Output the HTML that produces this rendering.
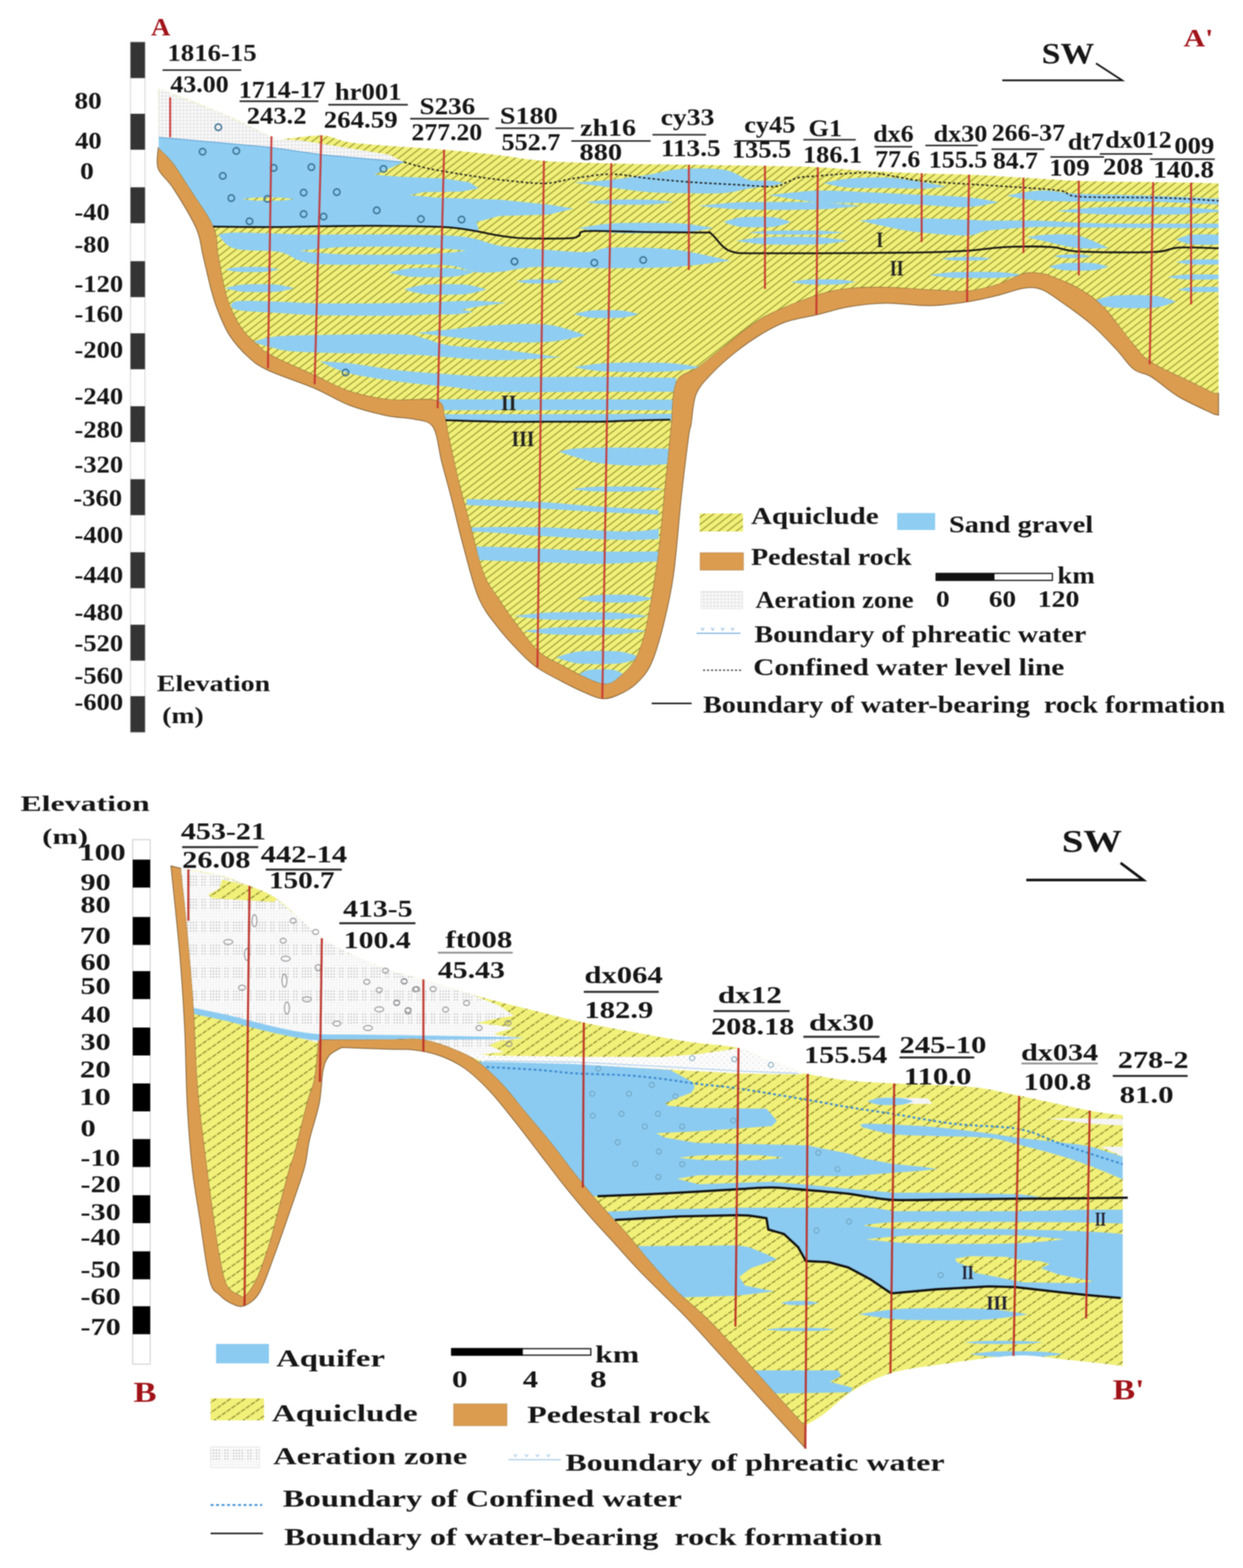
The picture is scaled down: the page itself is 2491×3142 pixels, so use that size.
<!DOCTYPE html>
<html><head><meta charset="utf-8"><title>Hydrogeological cross sections</title>
<style>html,body{margin:0;padding:0;background:#fff}svg{display:block}text{font-family:"Liberation Serif",serif;white-space:pre}</style></head><body>
<svg width="2491" height="3142" viewBox="0 0 2491 3142" xml:space="preserve">
<defs>
<pattern id="hatchT" width="18" height="14" patternUnits="userSpaceOnUse">
<rect width="18" height="14" fill="#f1f079"/>
<path d="M-1 14.8L19 -0.8M-1 28.8L19 13.2M-1 0.8L19 -14.8" stroke="#a3a23c" stroke-width="2.4" fill="none"/>
</pattern>
<pattern id="hatchB" width="29" height="20.3" patternUnits="userSpaceOnUse">
<rect width="29" height="20.3" fill="#f1f079"/>
<path d="M-29 40.6L58 -20.3M-29 20.3L58 -40.6M-29 60.900000000000006L58 0" stroke="#8f8d32" stroke-width="2.4" stroke-dasharray="9.440 2.360" fill="none"/>
</pattern>
<pattern id="aerT" width="7" height="7" patternUnits="userSpaceOnUse">
<rect width="7" height="7" fill="#fafafa"/>
<path d="M0 3.5H7M3.5 0V7" stroke="#d9d9dc" stroke-width="1"/>
</pattern>
<pattern id="aerB" width="46" height="46" patternUnits="userSpaceOnUse">
<rect width="46" height="46" fill="#fbfbfb"/>
<rect x="1.20" y="1.20" width="2.6" height="2.6" fill="#ececee"/><rect x="6.95" y="1.20" width="2.6" height="2.6" fill="#ececee"/><rect x="12.70" y="1.20" width="2.6" height="2.6" fill="#ececee"/><rect x="18.45" y="1.20" width="2.6" height="2.6" fill="#ececee"/><rect x="24.20" y="1.20" width="2.6" height="2.6" fill="#ececee"/><rect x="29.95" y="1.20" width="2.6" height="2.6" fill="#ececee"/><rect x="35.70" y="1.20" width="2.6" height="2.6" fill="#ececee"/><rect x="41.45" y="1.20" width="2.6" height="2.6" fill="#ececee"/><rect x="1.20" y="6.95" width="2.6" height="2.6" fill="#ececee"/><rect x="6.95" y="6.95" width="2.6" height="2.6" fill="#b9b9bd"/><rect x="12.70" y="6.95" width="2.6" height="2.6" fill="#b9b9bd"/><rect x="18.45" y="6.95" width="2.6" height="2.6" fill="#b9b9bd"/><rect x="24.20" y="6.95" width="2.6" height="2.6" fill="#b9b9bd"/><rect x="29.95" y="6.95" width="2.6" height="2.6" fill="#ececee"/><rect x="35.70" y="6.95" width="2.6" height="2.6" fill="#b9b9bd"/><rect x="41.45" y="6.95" width="2.6" height="2.6" fill="#b9b9bd"/><rect x="1.20" y="12.70" width="2.6" height="2.6" fill="#ececee"/><rect x="6.95" y="12.70" width="2.6" height="2.6" fill="#b9b9bd"/><rect x="12.70" y="12.70" width="2.6" height="2.6" fill="#b9b9bd"/><rect x="18.45" y="12.70" width="2.6" height="2.6" fill="#b9b9bd"/><rect x="24.20" y="12.70" width="2.6" height="2.6" fill="#b9b9bd"/><rect x="29.95" y="12.70" width="2.6" height="2.6" fill="#ececee"/><rect x="35.70" y="12.70" width="2.6" height="2.6" fill="#b9b9bd"/><rect x="41.45" y="12.70" width="2.6" height="2.6" fill="#b9b9bd"/><rect x="1.20" y="18.45" width="2.6" height="2.6" fill="#ececee"/><rect x="6.95" y="18.45" width="2.6" height="2.6" fill="#b9b9bd"/><rect x="12.70" y="18.45" width="2.6" height="2.6" fill="#b9b9bd"/><rect x="18.45" y="18.45" width="2.6" height="2.6" fill="#b9b9bd"/><rect x="24.20" y="18.45" width="2.6" height="2.6" fill="#b9b9bd"/><rect x="29.95" y="18.45" width="2.6" height="2.6" fill="#ececee"/><rect x="35.70" y="18.45" width="2.6" height="2.6" fill="#b9b9bd"/><rect x="41.45" y="18.45" width="2.6" height="2.6" fill="#b9b9bd"/><rect x="1.20" y="24.20" width="2.6" height="2.6" fill="#ececee"/><rect x="6.95" y="24.20" width="2.6" height="2.6" fill="#b9b9bd"/><rect x="12.70" y="24.20" width="2.6" height="2.6" fill="#b9b9bd"/><rect x="18.45" y="24.20" width="2.6" height="2.6" fill="#b9b9bd"/><rect x="24.20" y="24.20" width="2.6" height="2.6" fill="#b9b9bd"/><rect x="29.95" y="24.20" width="2.6" height="2.6" fill="#ececee"/><rect x="35.70" y="24.20" width="2.6" height="2.6" fill="#b9b9bd"/><rect x="41.45" y="24.20" width="2.6" height="2.6" fill="#b9b9bd"/><rect x="1.20" y="29.95" width="2.6" height="2.6" fill="#ececee"/><rect x="6.95" y="29.95" width="2.6" height="2.6" fill="#ececee"/><rect x="12.70" y="29.95" width="2.6" height="2.6" fill="#ececee"/><rect x="18.45" y="29.95" width="2.6" height="2.6" fill="#ececee"/><rect x="24.20" y="29.95" width="2.6" height="2.6" fill="#ececee"/><rect x="29.95" y="29.95" width="2.6" height="2.6" fill="#ececee"/><rect x="35.70" y="29.95" width="2.6" height="2.6" fill="#ececee"/><rect x="41.45" y="29.95" width="2.6" height="2.6" fill="#ececee"/><rect x="1.20" y="35.70" width="2.6" height="2.6" fill="#ececee"/><rect x="6.95" y="35.70" width="2.6" height="2.6" fill="#ececee"/><rect x="12.70" y="35.70" width="2.6" height="2.6" fill="#ececee"/><rect x="18.45" y="35.70" width="2.6" height="2.6" fill="#ececee"/><rect x="24.20" y="35.70" width="2.6" height="2.6" fill="#ececee"/><rect x="29.95" y="35.70" width="2.6" height="2.6" fill="#ececee"/><rect x="35.70" y="35.70" width="2.6" height="2.6" fill="#ececee"/><rect x="41.45" y="35.70" width="2.6" height="2.6" fill="#ececee"/><rect x="1.20" y="41.45" width="2.6" height="2.6" fill="#ececee"/><rect x="6.95" y="41.45" width="2.6" height="2.6" fill="#ececee"/><rect x="12.70" y="41.45" width="2.6" height="2.6" fill="#ececee"/><rect x="18.45" y="41.45" width="2.6" height="2.6" fill="#ececee"/><rect x="24.20" y="41.45" width="2.6" height="2.6" fill="#ececee"/><rect x="29.95" y="41.45" width="2.6" height="2.6" fill="#ececee"/><rect x="35.70" y="41.45" width="2.6" height="2.6" fill="#ececee"/><rect x="41.45" y="41.45" width="2.6" height="2.6" fill="#ececee"/>
</pattern>
<pattern id="aerL" width="11.5" height="11.5" patternUnits="userSpaceOnUse">
<rect width="11.5" height="11.5" fill="#fcfcfc"/>
<rect x="1.2" y="1.2" width="2.6" height="2.6" fill="#dcdcdf"/><rect x="6.95" y="6.95" width="2.6" height="2.6" fill="#e4e4e7"/>
</pattern>
<filter id="soft" color-interpolation-filters="sRGB" x="0" y="0" width="2491" height="3142" filterUnits="userSpaceOnUse"><feGaussianBlur stdDeviation="0.8"/></filter>
</defs>
<g filter="url(#soft)">
<rect width="2491" height="3142" fill="#fff"/>
<g id="top">
<path d="M317 296C317 303 312 324.5 317 338C322 351.5 334.3 357.2 347 377C359.7 396.8 383 434.3 393 457C403 479.7 401.8 491.8 407 513C412.2 534.2 418.8 565.2 424 584C429.2 602.8 432 611.3 438 626C444 640.7 450.2 657.2 460 672C469.8 686.8 484.2 703.3 497 715C509.8 726.7 514.8 731.5 537 742C559.2 752.5 602.8 766.3 630 778C657.2 789.7 675.8 802.8 700 812C724.2 821.2 753.3 828.3 775 833C796.7 837.7 814.5 836.2 830 840C845.5 843.8 858.8 841.8 868 856C877.2 870.2 878.8 901 885 925C891.2 949 897.5 970.8 905 1000C912.5 1029.2 920.8 1066.7 930 1100C939.2 1133.3 948.3 1173.3 960 1200C971.7 1226.7 986.7 1242.5 1000 1260C1013.3 1277.5 1027.5 1292.2 1040 1305C1052.5 1317.8 1060.8 1327 1075 1337C1089.2 1347 1109.2 1356.7 1125 1365C1140.8 1373.3 1156.3 1381.2 1170 1387C1183.7 1392.8 1195.3 1399.2 1207 1400C1218.7 1400.8 1228.7 1397 1240 1392C1251.3 1387 1264.2 1380.3 1275 1370C1285.8 1359.7 1295.8 1350 1305 1330C1314.2 1310 1322.5 1280 1330 1250C1337.5 1220 1344.2 1191.7 1350 1150C1355.8 1108.3 1360 1045.8 1365 1000C1370 954.2 1376.7 900 1380 875C1383.3 850 1382.5 864.2 1385 850C1387.5 835.8 1388.3 806.7 1395 790C1401.7 773.3 1411.7 764.2 1425 750C1438.3 735.8 1458.3 718.3 1475 705C1491.7 691.7 1508.3 680 1525 670C1541.7 660 1555.8 651.7 1575 645C1594.2 638.3 1619.2 635 1640 630C1660.8 625 1677.5 618.8 1700 615C1722.5 611.2 1748 607.9 1775 607.5C1802 607.1 1835 612.9 1862 612.5C1889 612.1 1914.5 608.3 1937 605C1959.5 601.7 1977.8 597.1 1997 592.5C2016.2 587.9 2037 579.6 2052 577.5C2067 575.4 2074.5 575.4 2087 580C2099.5 584.6 2110.3 593.3 2127 605C2143.7 616.7 2168.7 634.2 2187 650C2205.3 665.8 2222.8 685 2237 700C2251.2 715 2260.3 730.8 2272 740C2283.7 749.2 2292 745.8 2307 755C2322 764.2 2341 782.5 2362 795C2383 807.5 2421.2 824.2 2433 830L2442 832L2442 787.5L2433 787.5C2425.3 783.8 2408 775.4 2387 765C2366 754.6 2326.2 737.5 2307 725C2287.8 712.5 2287.8 708.3 2272 690C2256.2 671.7 2230.3 633.8 2212 615C2193.7 596.2 2178.7 587.5 2162 577.5C2145.3 567.5 2124.5 560 2112 555C2099.5 550 2097 548.8 2087 547.5C2077 546.2 2067 543.8 2052 547.5C2037 551.2 2016.2 564.2 1997 570C1977.8 575.8 1959.5 580.8 1937 582.5C1914.5 584.2 1889 581.2 1862 580C1835 578.8 1802 575.4 1775 575C1748 574.6 1722.5 575 1700 577.5C1677.5 580 1665 582.1 1640 590C1615 597.9 1573.3 614.2 1550 625C1526.7 635.8 1516.7 643.3 1500 655C1483.3 666.7 1466.7 681.7 1450 695C1433.3 708.3 1415.8 723.3 1400 735C1384.2 746.7 1364.2 745.8 1355 765C1345.8 784.2 1347.5 827.5 1345 850C1342.5 872.5 1342.5 875 1340 900C1337.5 925 1333.3 966.7 1330 1000C1326.7 1033.3 1324.2 1066.7 1320 1100C1315.8 1133.3 1310 1170.8 1305 1200C1300 1229.2 1295.8 1254.2 1290 1275C1284.2 1295.8 1278.3 1311.3 1270 1325C1261.7 1338.7 1249.2 1349.5 1240 1357C1230.8 1364.5 1225 1369.5 1215 1370C1205 1370.5 1195 1366.3 1180 1360C1165 1353.7 1141.7 1341.2 1125 1332C1108.3 1322.8 1095 1318.7 1080 1305C1065 1291.3 1048.3 1267.5 1035 1250C1021.7 1232.5 1010.8 1216.7 1000 1200C989.2 1183.3 979.2 1173.3 970 1150C960.8 1126.7 953.3 1090.8 945 1060C936.7 1029.2 927.5 995.8 920 965C912.5 934.2 904.7 896.7 900 875C895.3 853.3 896.2 847.2 892 835C887.8 822.8 893.7 807.8 875 802C856.3 796.2 809.2 803.2 780 800C750.8 796.8 724.7 791 700 783C675.3 775 657.8 763.8 632 752C606.2 740.2 564.3 722.3 545 712C525.7 701.7 525.5 698.3 516 690C506.5 681.7 496.2 672.7 488 662C479.8 651.3 473 639 467 626C461 613 456.8 602.8 452 584C447.2 565.2 442 534.7 438 513C434 491.3 437.3 476.2 428 454C418.7 431.8 395.5 401.2 382 380C368.5 358.8 357.3 340.7 347 327C336.7 313.3 324.5 302.8 320 298L317 296Z" fill="#db9c50" stroke="#7a5a30" stroke-width="1.5"/>
<clipPath id="tclip"><path d="M317.5 177.5C337.9 185.4 402.9 209.2 440 225C477.1 240.8 520 263 540 272C560 281 542.5 279.1 560 279C577.5 278.9 621.7 270.5 645 271.5C668.3 272.5 675.8 281.4 700 285C724.2 288.6 758.3 290.5 790 293C821.7 295.5 855 297 890 300C925 303 966.7 307.2 1000 311C1033.3 314.8 1052.5 319.8 1090 322.5C1127.5 325.2 1175.8 326.2 1225 327.5C1274.2 328.8 1333.3 329.2 1385 330C1436.7 330.8 1492.5 331.7 1535 332.5C1577.5 333.3 1606.3 333.3 1640 335C1673.7 336.7 1702.5 340.4 1737 342.5C1771.5 344.6 1812.8 346.2 1847 347.5C1881.2 348.8 1907.8 348.6 1942 350C1976.2 351.4 2015.3 353.9 2052 356C2088.7 358.1 2118.7 361 2162 362.5C2205.3 364 2274.5 364.4 2312 365C2349.5 365.6 2365.3 365.6 2387 366C2408.7 366.4 2432.8 367.2 2442 367.5L2442 787.5L2433 787.5C2425.3 783.8 2408 775.4 2387 765C2366 754.6 2326.2 737.5 2307 725C2287.8 712.5 2287.8 708.3 2272 690C2256.2 671.7 2230.3 633.8 2212 615C2193.7 596.2 2178.7 587.5 2162 577.5C2145.3 567.5 2124.5 560 2112 555C2099.5 550 2097 548.8 2087 547.5C2077 546.2 2067 543.8 2052 547.5C2037 551.2 2016.2 564.2 1997 570C1977.8 575.8 1959.5 580.8 1937 582.5C1914.5 584.2 1889 581.2 1862 580C1835 578.8 1802 575.4 1775 575C1748 574.6 1722.5 575 1700 577.5C1677.5 580 1665 582.1 1640 590C1615 597.9 1573.3 614.2 1550 625C1526.7 635.8 1516.7 643.3 1500 655C1483.3 666.7 1466.7 681.7 1450 695C1433.3 708.3 1415.8 723.3 1400 735C1384.2 746.7 1364.2 745.8 1355 765C1345.8 784.2 1347.5 827.5 1345 850C1342.5 872.5 1342.5 875 1340 900C1337.5 925 1333.3 966.7 1330 1000C1326.7 1033.3 1324.2 1066.7 1320 1100C1315.8 1133.3 1310 1170.8 1305 1200C1300 1229.2 1295.8 1254.2 1290 1275C1284.2 1295.8 1278.3 1311.3 1270 1325C1261.7 1338.7 1249.2 1349.5 1240 1357C1230.8 1364.5 1225 1369.5 1215 1370C1205 1370.5 1195 1366.3 1180 1360C1165 1353.7 1141.7 1341.2 1125 1332C1108.3 1322.8 1095 1318.7 1080 1305C1065 1291.3 1048.3 1267.5 1035 1250C1021.7 1232.5 1010.8 1216.7 1000 1200C989.2 1183.3 979.2 1173.3 970 1150C960.8 1126.7 953.3 1090.8 945 1060C936.7 1029.2 927.5 995.8 920 965C912.5 934.2 904.7 896.7 900 875C895.3 853.3 896.2 847.2 892 835C887.8 822.8 893.7 807.8 875 802C856.3 796.2 809.2 803.2 780 800C750.8 796.8 724.7 791 700 783C675.3 775 657.8 763.8 632 752C606.2 740.2 564.3 722.3 545 712C525.7 701.7 525.5 698.3 516 690C506.5 681.7 496.2 672.7 488 662C479.8 651.3 473 639 467 626C461 613 456.8 602.8 452 584C447.2 565.2 442 534.7 438 513C434 491.3 437.3 476.2 428 454C418.7 431.8 395.5 401.2 382 380C368.5 358.8 357.3 340.7 347 327C336.7 313.3 324.5 302.8 320 298L318 298Z"/></clipPath>
<path d="M317.5 177.5C337.9 185.4 402.9 209.2 440 225C477.1 240.8 520 263 540 272C560 281 542.5 279.1 560 279C577.5 278.9 621.7 270.5 645 271.5C668.3 272.5 675.8 281.4 700 285C724.2 288.6 758.3 290.5 790 293C821.7 295.5 855 297 890 300C925 303 966.7 307.2 1000 311C1033.3 314.8 1052.5 319.8 1090 322.5C1127.5 325.2 1175.8 326.2 1225 327.5C1274.2 328.8 1333.3 329.2 1385 330C1436.7 330.8 1492.5 331.7 1535 332.5C1577.5 333.3 1606.3 333.3 1640 335C1673.7 336.7 1702.5 340.4 1737 342.5C1771.5 344.6 1812.8 346.2 1847 347.5C1881.2 348.8 1907.8 348.6 1942 350C1976.2 351.4 2015.3 353.9 2052 356C2088.7 358.1 2118.7 361 2162 362.5C2205.3 364 2274.5 364.4 2312 365C2349.5 365.6 2365.3 365.6 2387 366C2408.7 366.4 2432.8 367.2 2442 367.5L2442 787.5L2433 787.5C2425.3 783.8 2408 775.4 2387 765C2366 754.6 2326.2 737.5 2307 725C2287.8 712.5 2287.8 708.3 2272 690C2256.2 671.7 2230.3 633.8 2212 615C2193.7 596.2 2178.7 587.5 2162 577.5C2145.3 567.5 2124.5 560 2112 555C2099.5 550 2097 548.8 2087 547.5C2077 546.2 2067 543.8 2052 547.5C2037 551.2 2016.2 564.2 1997 570C1977.8 575.8 1959.5 580.8 1937 582.5C1914.5 584.2 1889 581.2 1862 580C1835 578.8 1802 575.4 1775 575C1748 574.6 1722.5 575 1700 577.5C1677.5 580 1665 582.1 1640 590C1615 597.9 1573.3 614.2 1550 625C1526.7 635.8 1516.7 643.3 1500 655C1483.3 666.7 1466.7 681.7 1450 695C1433.3 708.3 1415.8 723.3 1400 735C1384.2 746.7 1364.2 745.8 1355 765C1345.8 784.2 1347.5 827.5 1345 850C1342.5 872.5 1342.5 875 1340 900C1337.5 925 1333.3 966.7 1330 1000C1326.7 1033.3 1324.2 1066.7 1320 1100C1315.8 1133.3 1310 1170.8 1305 1200C1300 1229.2 1295.8 1254.2 1290 1275C1284.2 1295.8 1278.3 1311.3 1270 1325C1261.7 1338.7 1249.2 1349.5 1240 1357C1230.8 1364.5 1225 1369.5 1215 1370C1205 1370.5 1195 1366.3 1180 1360C1165 1353.7 1141.7 1341.2 1125 1332C1108.3 1322.8 1095 1318.7 1080 1305C1065 1291.3 1048.3 1267.5 1035 1250C1021.7 1232.5 1010.8 1216.7 1000 1200C989.2 1183.3 979.2 1173.3 970 1150C960.8 1126.7 953.3 1090.8 945 1060C936.7 1029.2 927.5 995.8 920 965C912.5 934.2 904.7 896.7 900 875C895.3 853.3 896.2 847.2 892 835C887.8 822.8 893.7 807.8 875 802C856.3 796.2 809.2 803.2 780 800C750.8 796.8 724.7 791 700 783C675.3 775 657.8 763.8 632 752C606.2 740.2 564.3 722.3 545 712C525.7 701.7 525.5 698.3 516 690C506.5 681.7 496.2 672.7 488 662C479.8 651.3 473 639 467 626C461 613 456.8 602.8 452 584C447.2 565.2 442 534.7 438 513C434 491.3 437.3 476.2 428 454C418.7 431.8 395.5 401.2 382 380C368.5 358.8 357.3 340.7 347 327C336.7 313.3 324.5 302.8 320 298L318 298Z" fill="url(#hatchT)"/>
<g clip-path="url(#tclip)">
<path d="M317.5 177.5L440 225L540 272L560 279L600 281L645 288L700 297L750 305L780 310L810 325L645 310L540 295L318 275Z" fill="url(#aerT)"/>
<g fill="#8fcef2">
<path d="M318 275L540 295L645 310L810 325L780 337.5L750 350L800 354L890 357.5L940 365L960 377.5L925 384L850 385L820 391L875 396L1000 400L1100 410L1150 418L1100 430L1000 433L955 445L960 463L890 455L750 452.5L640 453.5L540 455L427 454L382 380L347 327L318 298Z"/>
<path d="M437 470C442.5 469.3 449.5 466.3 470 466C490.5 465.7 538.3 467.3 560 468C581.7 468.7 585 469.7 600 470C615 470.3 616.7 470 650 470C683.3 470 758.3 469.7 800 470C841.7 470.3 875 470.7 900 472C925 473.3 933.3 474.7 950 478C966.7 481.3 979.2 488.5 1000 492C1020.8 495.5 1045.8 496.8 1075 499C1104.2 501.2 1150 505.5 1175 505C1200 504.5 1195.8 496.8 1225 496C1254.2 495.2 1310 495.6 1350 500C1390 504.4 1445.8 518.8 1465 522.5L1465 522.5C1445.8 524.6 1390 532.5 1350 535C1310 537.5 1254.2 537.2 1225 537.5C1195.8 537.8 1200 537.4 1175 537C1150 536.6 1104.2 533.7 1075 535C1045.8 536.3 1020.8 543.3 1000 545C979.2 546.7 966.7 547.2 950 545C933.3 542.8 925 534.5 900 532C875 529.5 841.7 530.3 800 530C758.3 529.7 683.3 531.3 650 530C616.7 528.7 615 526.2 600 522C585 517.8 581.7 509 560 505C538.3 501 490.5 503.8 470 498C449.5 492.2 442.5 474.7 437 470Z"/>
<path d="M462 612C465 610.5 462 604.2 480 603C498 601.8 541.7 604.2 570 605C598.3 605.8 608.3 607.7 650 608C691.7 608.3 778.3 607.7 820 607C861.7 606.3 876.7 604.7 900 604C923.3 603.3 940.8 602.5 960 603C979.2 603.5 1005.8 606.3 1015 607L1015 607C1005.8 608.2 979.2 611 960 614C940.8 617 923.3 622 900 625C876.7 628 861.7 630.8 820 632C778.3 633.2 691.7 632.7 650 632C608.3 631.3 598.3 629.7 570 628C541.7 626.3 498 624.7 480 622C462 619.3 465 613.7 462 612Z"/>
<path d="M508 685C513.3 683.5 524.7 678.2 540 676C555.3 673.8 556.7 673 600 672C643.3 671 758.3 669 800 670C841.7 671 833.3 674.3 850 678C866.7 681.7 875 688.3 900 692C925 695.7 962.5 696 1000 700C1037.5 704 1104.2 713.3 1125 716L1125 716C1104.2 717 1037.5 722 1000 722C962.5 722 925 717.7 900 716C875 714.3 866.7 713 850 712C833.3 711 841.7 711.2 800 710C758.3 708.8 643.3 707.5 600 705C556.7 702.5 555.3 698.3 540 695C524.7 691.7 513.3 686.7 508 685Z"/>
<path d="M640 724C650 724.7 673.3 725 700 728C726.7 731 766.7 738.3 800 742C833.3 745.7 866.7 747.8 900 750C933.3 752.2 950 754.2 1000 755C1050 755.8 1140.8 754.7 1200 755C1259.2 755.3 1329.2 756.7 1355 757L1355 785C1329.2 785 1259.2 785 1200 785C1140.8 785 1050 786.7 1000 785C950 783.3 933.3 778.3 900 775C866.7 771.7 833.3 769.5 800 765C766.7 760.5 726.7 754.8 700 748C673.3 741.2 650 728 640 724Z"/>
<path d="M880 800C900 800 946.7 800 1000 800C1053.3 800 1140.8 799.8 1200 800C1259.2 800.2 1329.2 800.8 1355 801L1355 822C1329.2 822 1259.2 822 1200 822C1140.8 822 1053.3 822 1000 822C946.7 822 900 822 880 822Z"/>
<path d="M880 830C916.7 830 1020.8 830.2 1100 830C1179.2 829.8 1312.5 829.2 1355 829L1355 842C1312.5 842.5 1179.2 844.8 1100 845C1020.8 845.2 916.7 843.3 880 843Z"/>
<path d="M835 667C845.8 665.8 872.5 662.7 900 660C927.5 657.3 966.7 652.5 1000 651C1033.3 649.5 1070.8 647.5 1100 651C1129.2 654.5 1162.5 668.5 1175 672L1175 672C1162.5 674.2 1129.2 682.8 1100 685C1070.8 687.2 1033.3 686.7 1000 685C966.7 683.3 927.5 678 900 675C872.5 672 845.8 668.3 835 667Z"/>
<path d="M1150 366C1162.5 365 1200 362.7 1225 360C1250 357.3 1277.5 353.5 1300 350C1322.5 346.5 1335 340.7 1360 339C1385 337.3 1426.7 336.5 1450 340C1473.3 343.5 1483.3 354.7 1500 360C1516.7 365.3 1541.7 370 1550 372L1550 372C1541.7 373 1516.7 375.5 1500 378C1483.3 380.5 1473.3 385.5 1450 387C1426.7 388.5 1385 387.3 1360 387C1335 386.7 1322.5 386.8 1300 385C1277.5 383.2 1250 379.2 1225 376C1200 372.8 1162.5 367.7 1150 366Z"/>
<path d="M1540 391C1556.2 389.5 1604.2 383 1637 382C1669.8 381 1703.7 383.7 1737 385C1770.3 386.3 1803.7 388.3 1837 390C1870.3 391.7 1909.5 392.5 1937 395C1964.5 397.5 1991.2 403.3 2002 405L2002 405C1991.2 406.7 1964.5 414.2 1937 415C1909.5 415.8 1870.3 411.3 1837 410C1803.7 408.7 1770.3 407.8 1737 407C1703.7 406.2 1669.8 407.7 1637 405C1604.2 402.3 1556.2 393.3 1540 391Z"/>
<path d="M1650 367C1658.3 365.5 1678.3 359.8 1700 358C1721.7 356.2 1755 354.8 1780 356C1805 357.2 1830.5 362 1850 365C1869.5 368 1889.2 372.5 1897 374L1897 374C1889.2 374.7 1869.5 377.5 1850 378C1830.5 378.5 1805 377.3 1780 377C1755 376.7 1721.7 377.7 1700 376C1678.3 374.3 1658.3 368.5 1650 367Z"/>
<path d="M1722 442C1731.7 441.2 1760.8 437.8 1780 437C1799.2 436.2 1810.8 436.5 1837 437C1863.2 437.5 1912.8 439.2 1937 440C1961.2 440.8 1958.2 441.7 1982 442C2005.8 442.3 2045.8 441.2 2080 442C2114.2 442.8 2150.3 446 2187 447C2223.7 448 2257.5 447.8 2300 448C2342.5 448.2 2418.3 448 2442 448L2442 457C2418.3 457 2342.5 457.2 2300 457C2257.5 456.8 2223.7 456.3 2187 456C2150.3 455.7 2114.2 454 2080 455C2045.8 456 2005.8 459.2 1982 462C1958.2 464.8 1961.2 471.5 1937 472C1912.8 472.5 1863.2 467.8 1837 465C1810.8 462.2 1799.2 458.8 1780 455C1760.8 451.2 1731.7 444.2 1722 442Z"/>
<path d="M2017 392C2024.2 390.7 2046.2 385.7 2060 384C2073.8 382.3 2083.8 381.3 2100 382C2116.2 382.7 2123.7 386.3 2157 388C2190.3 389.7 2252.5 390.3 2300 392C2347.5 393.7 2418.3 397 2442 398L2442 410C2418.3 409 2347.5 405 2300 404C2252.5 403 2190.3 404.2 2157 404C2123.7 403.8 2116.2 403.7 2100 403C2083.8 402.3 2073.8 401.8 2060 400C2046.2 398.2 2024.2 393.3 2017 392Z"/>
<path d="M2057 475C2064.2 474.2 2082.8 470.5 2100 470C2117.2 469.5 2139.7 467.5 2160 472C2180.3 476.5 2211.7 492.8 2222 497L2222 497C2211.7 497 2180.3 499 2160 497C2139.7 495 2117.2 488.7 2100 485C2082.8 481.3 2064.2 476.7 2057 475Z"/>
<path d="M935 1000C945.8 1000.3 972.5 1000.8 1000 1002C1027.5 1003.2 1066.7 1004.8 1100 1007C1133.3 1009.2 1163.3 1012.5 1200 1015C1236.7 1017.5 1300 1020.8 1320 1022L1320 1031C1300 1030.2 1236.7 1027.8 1200 1026C1163.3 1024.2 1133.3 1021.8 1100 1020C1066.7 1018.2 1027.5 1016.3 1000 1015C972.5 1013.7 945.8 1012.5 935 1012Z"/>
<path d="M945 1057C954.2 1056.8 974.2 1056 1000 1056C1025.8 1056 1058.3 1055.5 1100 1057C1141.7 1058.5 1213.3 1064.5 1250 1065C1286.7 1065.5 1308.3 1060.8 1320 1060L1320 1080C1308.3 1080.3 1286.7 1082.8 1250 1082C1213.3 1081.2 1141.7 1077.3 1100 1075C1058.3 1072.7 1025.8 1069.7 1000 1068C974.2 1066.3 954.2 1065.5 945 1065Z"/>
<path d="M955 1095C962.5 1095.2 975.8 1095.2 1000 1096C1024.2 1096.8 1066.7 1098.5 1100 1100C1133.3 1101.5 1163.3 1104.2 1200 1105C1236.7 1105.8 1300 1105 1320 1105L1320 1125C1300 1125.8 1236.7 1129.7 1200 1130C1163.3 1130.3 1133.3 1128 1100 1127C1066.7 1126 1024.2 1124.8 1000 1124C975.8 1123.2 962.5 1122.3 955 1122Z"/>
<path d="M1120 905C1125 904 1136.7 900.3 1150 899C1163.3 897.7 1180 897.3 1200 897C1220 896.7 1246.7 896.7 1270 897C1293.3 897.3 1328.3 898.7 1340 899L1340 930C1328.3 930.5 1293.3 933.3 1270 933C1246.7 932.7 1220 931 1200 928C1180 925 1163.3 918.8 1150 915C1136.7 911.2 1125 906.7 1120 905Z"/>
<path d="M450 540C452.2 539.5 457.7 538.1 463.2 537.2C468.7 536.4 472.4 535.4 483 535C493.6 534.6 516.4 534.6 527 535C537.6 535.4 541.3 536.4 546.8 537.2C552.3 538.1 557.8 539.5 560 540L560 540C557.8 540.5 552.3 541.9 546.8 542.8C541.3 543.6 537.6 544.6 527 545C516.4 545.4 493.6 545.4 483 545C472.4 544.6 468.7 543.6 463.2 542.8C457.7 541.9 452.2 540.5 450 540Z"/>
<path d="M780 546C783.4 545.2 791.9 542.5 800.4 541C808.9 539.5 814.6 537.7 831 537C847.4 536.3 882.6 536.3 899 537C915.4 537.7 921.1 539.5 929.6 541C938.1 542.5 946.6 545.2 950 546L950 546C946.6 546.8 938.1 549.5 929.6 551C921.1 552.5 915.4 554.3 899 555C882.6 555.7 847.4 555.7 831 555C814.6 554.3 808.9 552.5 800.4 551C791.9 549.5 783.4 546.8 780 546Z"/>
<path d="M450 577.5C452.8 576.8 459.8 574.6 466.8 573.4C473.8 572.1 478.5 570.6 492 570C505.5 569.4 534.5 569.4 548 570C561.5 570.6 566.2 572.1 573.2 573.4C580.2 574.6 587.2 576.8 590 577.5L590 577.5C587.2 578.2 580.2 580.4 573.2 581.6C566.2 582.9 561.5 584.4 548 585C534.5 585.6 505.5 585.6 492 585C478.5 584.4 473.8 582.9 466.8 581.6C459.8 580.4 452.8 578.2 450 577.5Z"/>
<path d="M810 580C813.3 579.1 821.5 576.2 829.8 574.5C838 572.8 843.5 570.8 859.5 570C875.5 569.2 909.5 569.2 925.5 570C941.5 570.8 947 572.8 955.2 574.5C963.5 576.2 971.7 579.1 975 580L975 580C971.7 580.9 963.5 583.8 955.2 585.5C947 587.2 941.5 589.2 925.5 590C909.5 590.8 875.5 590.8 859.5 590C843.5 589.2 838 587.2 829.8 585.5C821.5 583.8 813.3 580.9 810 580Z"/>
<path d="M1035 564C1036.9 563.6 1041.7 562.5 1046.4 561.8C1051.2 561.1 1054.3 560.3 1063.5 560C1072.7 559.7 1092.3 559.7 1101.5 560C1110.7 560.3 1113.8 561.1 1118.6 561.8C1123.3 562.5 1128.1 563.6 1130 564L1130 564C1128.1 564.4 1123.3 565.5 1118.6 566.2C1113.8 566.9 1110.7 567.7 1101.5 568C1092.3 568.3 1072.7 568.3 1063.5 568C1054.3 567.7 1051.2 566.9 1046.4 566.2C1041.7 565.5 1036.9 564.4 1035 564Z"/>
<path d="M810 625C812.8 624.5 819.8 623.1 826.8 622.2C833.8 621.4 838.5 620.4 852 620C865.5 619.6 894.5 619.6 908 620C921.5 620.4 926.2 621.4 933.2 622.2C940.2 623.1 947.2 624.5 950 625L950 625C947.2 625.5 940.2 626.9 933.2 627.8C926.2 628.6 921.5 629.6 908 630C894.5 630.4 865.5 630.4 852 630C838.5 629.6 833.8 628.6 826.8 627.8C819.8 626.9 812.8 625.5 810 625Z"/>
<path d="M1150 629.5C1152.6 628.8 1159.1 626.6 1165.6 625.4C1172.1 624.1 1176.4 622.6 1189 622C1201.6 621.4 1228.4 621.4 1241 622C1253.6 622.6 1257.9 624.1 1264.4 625.4C1270.9 626.6 1277.4 628.8 1280 629.5L1280 629.5C1277.4 630.2 1270.9 632.4 1264.4 633.6C1257.9 634.9 1253.6 636.4 1241 637C1228.4 637.6 1201.6 637.6 1189 637C1176.4 636.4 1172.1 634.9 1165.6 633.6C1159.1 632.4 1152.6 630.2 1150 629.5Z"/>
<path d="M1150 736C1155.1 735.2 1167.8 732.5 1180.6 731C1193.3 729.5 1201.8 727.7 1226.5 727C1251.2 726.3 1303.8 726.3 1328.5 727C1353.2 727.7 1361.7 729.5 1374.4 731C1387.2 732.5 1399.9 735.2 1405 736L1405 736C1399.9 736.8 1387.2 739.5 1374.4 741C1361.7 742.5 1353.2 744.3 1328.5 745C1303.8 745.7 1251.2 745.7 1226.5 745C1201.8 744.3 1193.3 742.5 1180.6 741C1167.8 739.5 1155.1 736.8 1150 736Z"/>
<path d="M1485 367C1486.7 366.5 1491 365.1 1495.2 364.2C1499.5 363.4 1502.3 362.4 1510.5 362C1518.7 361.6 1536.3 361.6 1544.5 362C1552.7 362.4 1555.5 363.4 1559.8 364.2C1564 365.1 1568.3 366.5 1570 367L1570 367C1568.3 367.5 1564 368.9 1559.8 369.8C1555.5 370.6 1552.7 371.6 1544.5 372C1536.3 372.4 1518.7 372.4 1510.5 372C1502.3 371.6 1499.5 370.6 1495.2 369.8C1491 368.9 1486.7 367.5 1485 367Z"/>
<path d="M1175 405C1178.5 404.5 1187.2 403.1 1196 402.2C1204.8 401.4 1210.6 400.4 1227.5 400C1244.4 399.6 1280.6 399.6 1297.5 400C1314.4 400.4 1320.2 401.4 1329 402.2C1337.8 403.1 1346.5 404.5 1350 405L1350 405C1346.5 405.5 1337.8 406.9 1329 407.8C1320.2 408.6 1314.4 409.6 1297.5 410C1280.6 410.4 1244.4 410.4 1227.5 410C1210.6 409.6 1204.8 408.6 1196 407.8C1187.2 406.9 1178.5 405.5 1175 405Z"/>
<path d="M1400 412.5C1406.5 411.8 1422.8 409.6 1439 408.4C1455.2 407.1 1466.1 405.6 1497.5 405C1528.9 404.4 1596.1 404.4 1627.5 405C1658.9 405.6 1669.8 407.1 1686 408.4C1702.2 409.6 1718.5 411.8 1725 412.5L1725 412.5C1718.5 413.2 1702.2 415.4 1686 416.6C1669.8 417.9 1658.9 419.4 1627.5 420C1596.1 420.6 1528.9 420.6 1497.5 420C1466.1 419.4 1455.2 417.9 1439 416.6C1422.8 415.4 1406.5 413.2 1400 412.5Z"/>
<path d="M1450 445C1452.7 444.1 1459.5 441.2 1466.2 439.5C1473 437.8 1477.5 435.8 1490.5 435C1503.5 434.2 1531.5 434.2 1544.5 435C1557.5 435.8 1562 437.8 1568.8 439.5C1575.5 441.2 1582.3 444.1 1585 445L1585 445C1582.3 445.9 1575.5 448.8 1568.8 450.5C1562 452.2 1557.5 454.2 1544.5 455C1531.5 455.8 1503.5 455.8 1490.5 455C1477.5 454.2 1473 452.2 1466.2 450.5C1459.5 448.8 1452.7 445.9 1450 445Z"/>
<path d="M1160 457C1165.4 456.1 1178.9 453.2 1192.4 451.5C1205.9 449.8 1214.9 447.8 1241 447C1267.1 446.2 1322.9 446.2 1349 447C1375.1 447.8 1384.1 449.8 1397.6 451.5C1411.1 453.2 1424.6 456.1 1430 457L1430 457C1424.6 457.9 1411.1 460.8 1397.6 462.5C1384.1 464.2 1375.1 466.2 1349 467C1322.9 467.8 1267.1 467.8 1241 467C1214.9 466.2 1205.9 464.2 1192.4 462.5C1178.9 460.8 1165.4 457.9 1160 457Z"/>
<path d="M1475 482.5C1479.5 481.8 1490.8 479.6 1502 478.4C1513.2 477.1 1520.8 475.6 1542.5 475C1564.2 474.4 1610.8 474.4 1632.5 475C1654.2 475.6 1661.8 477.1 1673 478.4C1684.2 479.6 1695.5 481.8 1700 482.5L1700 482.5C1695.5 483.2 1684.2 485.4 1673 486.6C1661.8 487.9 1654.2 489.4 1632.5 490C1610.8 490.6 1564.2 490.6 1542.5 490C1520.8 489.4 1513.2 487.9 1502 486.6C1490.8 485.4 1479.5 483.2 1475 482.5Z"/>
<path d="M1500 466C1503.8 465.6 1513.3 464.5 1522.8 463.8C1532.3 463.1 1538.6 462.3 1557 462C1575.4 461.7 1614.6 461.7 1633 462C1651.4 462.3 1657.7 463.1 1667.2 463.8C1676.7 464.5 1686.2 465.6 1690 466L1690 466C1686.2 466.4 1676.7 467.5 1667.2 468.2C1657.7 468.9 1651.4 469.7 1633 470C1614.6 470.3 1575.4 470.3 1557 470C1538.6 469.7 1532.3 468.9 1522.8 468.2C1513.3 467.5 1503.8 466.4 1500 466Z"/>
<path d="M1585 565C1587.6 564.5 1594.1 563.1 1600.6 562.2C1607.1 561.4 1611.4 560.4 1624 560C1636.6 559.6 1663.4 559.6 1676 560C1688.6 560.4 1692.9 561.4 1699.4 562.2C1705.9 563.1 1712.4 564.5 1715 565L1715 565C1712.4 565.5 1705.9 566.9 1699.4 567.8C1692.9 568.6 1688.6 569.6 1676 570C1663.4 570.4 1636.6 570.4 1624 570C1611.4 569.6 1607.1 568.6 1600.6 567.8C1594.1 566.9 1587.6 565.5 1585 565Z"/>
<path d="M2117 422.5C2123.9 421.8 2141 419.6 2158.2 418.4C2175.3 417.1 2186.7 415.6 2219.9 415C2253.1 414.4 2323.9 414.4 2357.1 415C2390.3 415.6 2401.7 417.1 2418.8 418.4C2436 419.6 2453.1 421.8 2460 422.5L2460 422.5C2453.1 423.2 2436 425.4 2418.8 426.6C2401.7 427.9 2390.3 429.4 2357.1 430C2323.9 430.6 2253.1 430.6 2219.9 430C2186.7 429.4 2175.3 427.9 2158.2 426.6C2141 425.4 2123.9 423.2 2117 422.5Z"/>
<path d="M1887 518.5C1889 518.2 1894 517.2 1899 516.6C1904 516 1907.3 515.3 1917 515C1926.7 514.7 1947.3 514.7 1957 515C1966.7 515.3 1970 516 1975 516.6C1980 517.2 1985 518.2 1987 518.5L1987 518.5C1985 518.8 1980 519.8 1975 520.4C1970 521 1966.7 521.7 1957 522C1947.3 522.3 1926.7 522.3 1917 522C1907.3 521.7 1904 521 1899 520.4C1894 519.8 1889 518.8 1887 518.5Z"/>
<path d="M1862 551C1865.8 550.5 1875.3 548.7 1884.8 547.7C1894.3 546.7 1900.6 545.5 1919 545C1937.4 544.5 1976.6 544.5 1995 545C2013.4 545.5 2019.7 546.7 2029.2 547.7C2038.7 548.7 2048.2 550.5 2052 551L2052 551C2048.2 551.5 2038.7 553.3 2029.2 554.3C2019.7 555.3 2013.4 556.5 1995 557C1976.6 557.5 1937.4 557.5 1919 557C1900.6 556.5 1894.3 555.3 1884.8 554.3C1875.3 553.3 1865.8 551.5 1862 551Z"/>
<path d="M2102 534.5C2104.4 533.8 2110.4 531.6 2116.4 530.4C2122.4 529.1 2126.4 527.6 2138 527C2149.6 526.4 2174.4 526.4 2186 527C2197.6 527.6 2201.6 529.1 2207.6 530.4C2213.6 531.6 2219.6 533.8 2222 534.5L2222 534.5C2219.6 535.2 2213.6 537.4 2207.6 538.6C2201.6 539.9 2197.6 541.4 2186 542C2174.4 542.6 2149.6 542.6 2138 542C2126.4 541.4 2122.4 539.9 2116.4 538.6C2110.4 537.4 2104.4 535.2 2102 534.5Z"/>
<path d="M2112 513.5C2113.5 513.2 2117.2 512.2 2121 511.6C2124.8 511 2127.2 510.3 2134.5 510C2141.8 509.7 2157.2 509.7 2164.5 510C2171.8 510.3 2174.2 511 2178 511.6C2181.8 512.2 2185.5 513.2 2187 513.5L2187 513.5C2185.5 513.8 2181.8 514.8 2178 515.4C2174.2 516 2171.8 516.7 2164.5 517C2157.2 517.3 2141.8 517.3 2134.5 517C2127.2 516.7 2124.8 516 2121 515.4C2117.2 514.8 2113.5 513.8 2112 513.5Z"/>
<path d="M2187 604.5C2190.4 603.4 2198.9 599.7 2207.4 597.6C2215.9 595.5 2221.6 592.9 2238 592C2254.4 591.1 2289.6 591.1 2306 592C2322.4 592.9 2328.1 595.5 2336.6 597.6C2345.1 599.7 2353.6 603.4 2357 604.5L2357 604.5C2353.6 605.6 2345.1 609.3 2336.6 611.4C2328.1 613.5 2322.4 616.1 2306 617C2289.6 617.9 2254.4 617.9 2238 617C2221.6 616.1 2215.9 613.5 2207.4 611.4C2198.9 609.3 2190.4 605.6 2187 604.5Z"/>
<path d="M2357 480C2359.3 479.1 2364.9 476.2 2370.6 474.5C2376.2 472.8 2380 470.8 2390.9 470C2401.8 469.2 2425.2 469.2 2436.1 470C2447 470.8 2450.8 472.8 2456.4 474.5C2462.1 476.2 2467.7 479.1 2470 480L2470 480C2467.7 480.9 2462.1 483.8 2456.4 485.5C2450.8 487.2 2447 489.2 2436.1 490C2425.2 490.8 2401.8 490.8 2390.9 490C2380 489.2 2376.2 487.2 2370.6 485.5C2364.9 483.8 2359.3 480.9 2357 480Z"/>
<path d="M2357 525C2359.3 524.5 2364.9 523.1 2370.6 522.2C2376.2 521.4 2380 520.4 2390.9 520C2401.8 519.6 2425.2 519.6 2436.1 520C2447 520.4 2450.8 521.4 2456.4 522.2C2462.1 523.1 2467.7 524.5 2470 525L2470 525C2467.7 525.5 2462.1 526.9 2456.4 527.8C2450.8 528.6 2447 529.6 2436.1 530C2425.2 530.4 2401.8 530.4 2390.9 530C2380 529.6 2376.2 528.6 2370.6 527.8C2364.9 526.9 2359.3 525.5 2357 525Z"/>
<path d="M2340 555C2342.6 554.5 2349.1 553.1 2355.6 552.2C2362.1 551.4 2366.4 550.4 2379 550C2391.6 549.6 2418.4 549.6 2431 550C2443.6 550.4 2447.9 551.4 2454.4 552.2C2460.9 553.1 2467.4 554.5 2470 555L2470 555C2467.4 555.5 2460.9 556.9 2454.4 557.8C2447.9 558.6 2443.6 559.6 2431 560C2418.4 560.4 2391.6 560.4 2379 560C2366.4 559.6 2362.1 558.6 2355.6 557.8C2349.1 556.9 2342.6 555.5 2340 555Z"/>
<path d="M2360 580C2362.2 579.5 2367.7 578.1 2373.2 577.2C2378.7 576.4 2382.4 575.4 2393 575C2403.6 574.6 2426.4 574.6 2437 575C2447.6 575.4 2451.3 576.4 2456.8 577.2C2462.3 578.1 2467.8 579.5 2470 580L2470 580C2467.8 580.5 2462.3 581.9 2456.8 582.8C2451.3 583.6 2447.6 584.6 2437 585C2426.4 585.4 2403.6 585.4 2393 585C2382.4 584.6 2378.7 583.6 2373.2 582.8C2367.7 581.9 2362.2 580.5 2360 580Z"/>
<path d="M1145 980C1148.7 979.5 1158 978.1 1167.2 977.2C1176.5 976.4 1182.6 975.4 1200.5 975C1218.4 974.6 1256.6 974.6 1274.5 975C1292.4 975.4 1298.5 976.4 1307.8 977.2C1317 978.1 1326.3 979.5 1330 980L1330 980C1326.3 980.5 1317 981.9 1307.8 982.8C1298.5 983.6 1292.4 984.6 1274.5 985C1256.6 985.4 1218.4 985.4 1200.5 985C1182.6 984.6 1176.5 983.6 1167.2 982.8C1158 981.9 1148.7 980.5 1145 980Z"/>
<path d="M1157 1199.5C1160.1 1198.8 1167.7 1196.6 1175.4 1195.4C1183 1194.1 1188.1 1192.6 1202.9 1192C1217.7 1191.4 1249.3 1191.4 1264.1 1192C1278.9 1192.6 1284 1194.1 1291.6 1195.4C1299.3 1196.6 1306.9 1198.8 1310 1199.5L1310 1199.5C1306.9 1200.2 1299.3 1202.4 1291.6 1203.6C1284 1204.9 1278.9 1206.4 1264.1 1207C1249.3 1207.6 1217.7 1207.6 1202.9 1207C1188.1 1206.4 1183 1204.9 1175.4 1203.6C1167.7 1202.4 1160.1 1200.2 1157 1199.5Z"/>
<path d="M1030 1234.5C1035.4 1233.8 1048.9 1231.6 1062.4 1230.4C1075.9 1229.1 1084.9 1227.6 1111 1227C1137.1 1226.4 1192.9 1226.4 1219 1227C1245.1 1227.6 1254.1 1229.1 1267.6 1230.4C1281.1 1231.6 1294.6 1233.8 1300 1234.5L1300 1234.5C1294.6 1235.2 1281.1 1237.4 1267.6 1238.6C1254.1 1239.9 1245.1 1241.4 1219 1242C1192.9 1242.6 1137.1 1242.6 1111 1242C1084.9 1241.4 1075.9 1239.9 1062.4 1238.6C1048.9 1237.4 1035.4 1235.2 1030 1234.5Z"/>
<path d="M1050 1264.5C1054.9 1263.8 1067.2 1261.6 1079.4 1260.4C1091.7 1259.1 1099.8 1257.6 1123.5 1257C1147.2 1256.4 1197.8 1256.4 1221.5 1257C1245.2 1257.6 1253.3 1259.1 1265.6 1260.4C1277.8 1261.6 1290.1 1263.8 1295 1264.5L1295 1264.5C1290.1 1265.2 1277.8 1267.4 1265.6 1268.6C1253.3 1269.9 1245.2 1271.4 1221.5 1272C1197.8 1272.6 1147.2 1272.6 1123.5 1272C1099.8 1271.4 1091.7 1269.9 1079.4 1268.6C1067.2 1267.4 1054.9 1265.2 1050 1264.5Z"/>
<path d="M1115 1317.5C1118.4 1316.4 1126.9 1312.7 1135.4 1310.6C1143.9 1308.5 1149.6 1305.9 1166 1305C1182.4 1304.1 1217.6 1304.1 1234 1305C1250.4 1305.9 1256.1 1308.5 1264.6 1310.6C1273.1 1312.7 1281.6 1316.4 1285 1317.5L1285 1317.5C1281.6 1318.6 1273.1 1322.3 1264.6 1324.4C1256.1 1326.5 1250.4 1329.1 1234 1330C1217.6 1330.9 1182.4 1330.9 1166 1330C1149.6 1329.1 1143.9 1326.5 1135.4 1324.4C1126.9 1322.3 1118.4 1318.6 1115 1317.5Z"/>
<path d="M1150 1358.5C1152.2 1357 1157.7 1352.2 1163.2 1349.4C1168.7 1346.7 1172.4 1343.2 1183 1342C1193.6 1340.8 1216.4 1340.8 1227 1342C1237.6 1343.2 1241.3 1346.7 1246.8 1349.4C1252.3 1352.2 1257.8 1357 1260 1358.5L1260 1358.5C1257.8 1360 1252.3 1364.8 1246.8 1367.6C1241.3 1370.3 1237.6 1373.8 1227 1375C1216.4 1376.2 1193.6 1376.2 1183 1375C1172.4 1373.8 1168.7 1370.3 1163.2 1367.6C1157.7 1364.8 1152.2 1360 1150 1358.5Z"/>
</g>
<g fill="url(#hatchT)">
<path d="M600 502.5C606.7 501.8 623.5 499.6 640.2 498.4C657 497.1 668.1 495.6 700.5 495C732.9 494.4 802.1 494.4 834.5 495C866.9 495.6 878 497.1 894.8 498.4C911.5 499.6 928.3 501.8 935 502.5L935 502.5C928.3 503.2 911.5 505.4 894.8 506.6C878 507.9 866.9 509.4 834.5 510C802.1 510.6 732.9 510.6 700.5 510C668.1 509.4 657 507.9 640.2 506.6C623.5 505.4 606.7 503.2 600 502.5Z"/>
<path d="M485 399C487.1 398.7 492.4 397.9 497.6 397.4C502.9 396.9 506.4 396.2 516.5 396C526.6 395.8 548.4 395.8 558.5 396C568.6 396.2 572.1 396.9 577.4 397.4C582.6 397.9 587.9 398.7 590 399L590 399C587.9 399.3 582.6 400.1 577.4 400.6C572.1 401.1 568.6 401.8 558.5 402C548.4 402.2 526.6 402.2 516.5 402C506.4 401.8 502.9 401.1 497.6 400.6C492.4 400.1 487.1 399.3 485 399Z"/>
</g>
</g>
<path d="M318 275L540 295L645 310L810 325" fill="none" stroke="#5a9bd0" stroke-width="1.5"/>
<path d="M427 454C445.8 454.2 504.5 455.1 540 455C575.5 454.9 605 453.9 640 453.5C675 453.1 708.3 452.2 750 452.5C791.7 452.8 856.7 453.3 890 455C923.3 456.7 931.7 459.7 950 462.5C968.3 465.3 983.3 469.5 1000 472C1016.7 474.5 1026.7 476.6 1050 477.5C1073.3 478.4 1121.7 478.3 1140 477.5C1158.3 476.7 1153.8 474.9 1160 472.5C1166.2 470.1 1153.7 464.2 1177 463C1200.3 461.8 1261.2 464.5 1300 465C1338.8 465.5 1389.2 465.5 1410 466C1430.8 466.5 1418.3 463.2 1425 468C1431.7 472.8 1442.5 488.8 1450 495C1457.5 501.2 1461.7 502.9 1470 505C1478.3 507.1 1472.2 507.1 1500 507.5C1527.8 507.9 1580.8 507.8 1637 507.5C1693.2 507.2 1787 506.8 1837 506C1887 505.2 1907 504.3 1937 502.5C1967 500.7 1988.7 496.2 2017 495C2045.3 493.8 2082.8 493.5 2107 495C2131.2 496.5 2127.8 502.3 2162 504C2196.2 505.7 2278.7 506.3 2312 505C2345.3 503.7 2340.3 497.2 2362 496C2383.7 494.8 2428.7 497.2 2442 497.5" fill="none" stroke="#111" stroke-width="3.6" stroke-linejoin="round"/>
<path d="M893 842C910.8 842.5 965.5 844.5 1000 845C1034.5 845.5 1066.7 845 1100 845C1133.3 845 1173.3 845.3 1200 845C1226.7 844.7 1236.2 843.7 1260 843C1283.8 842.3 1329.2 841.3 1343 841" fill="none" stroke="#111" stroke-width="3.6"/>
<path d="M810 325C818.3 327.2 840 333.8 860 338C880 342.2 906.7 346.3 930 350C953.3 353.7 973.3 357.1 1000 360C1026.7 362.9 1065 367.9 1090 367.5C1115 367.1 1127.5 360.6 1150 357.5C1172.5 354.4 1200 349 1225 349C1250 349 1273.3 354.8 1300 357.5C1326.7 360.2 1355.8 362.9 1385 365C1414.2 367.1 1447.5 368.5 1475 370C1502.5 371.5 1533.3 374.7 1550 374C1566.7 373.3 1566.7 369 1575 366C1583.3 363 1589.2 358.2 1600 356C1610.8 353.8 1617.2 354.2 1640 352.5C1662.8 350.8 1710.3 345.6 1737 346C1763.7 346.4 1781.7 352.2 1800 355C1818.3 357.8 1823.3 360.2 1847 362.5C1870.7 364.8 1907.8 366.8 1942 369C1976.2 371.2 2021.2 373.8 2052 376C2082.8 378.2 2108.7 379.5 2127 382.5C2145.3 385.5 2131.2 391.8 2162 394C2192.8 396.2 2274.5 395.2 2312 396C2349.5 396.8 2365.3 397.9 2387 399C2408.7 400.1 2432.8 401.9 2442 402.5" fill="none" stroke="#222" stroke-width="3" stroke-dasharray="5 4.5"/>
<g fill="none" stroke="#3a7090" stroke-width="2.8">
<circle cx="437.5" cy="255" r="6.5"/>
<circle cx="406" cy="304" r="6.5"/>
<circle cx="473.5" cy="302.5" r="6.5"/>
<circle cx="446.5" cy="352.5" r="6.5"/>
<circle cx="548.5" cy="336.5" r="6.5"/>
<circle cx="624" cy="335" r="6.5"/>
<circle cx="768.5" cy="338.5" r="6.5"/>
<circle cx="463.5" cy="397" r="6.5"/>
<circle cx="536" cy="398.5" r="6.5"/>
<circle cx="608.5" cy="386" r="6.5"/>
<circle cx="675" cy="385" r="6.5"/>
<circle cx="608.5" cy="429" r="6.5"/>
<circle cx="648.5" cy="434" r="6.5"/>
<circle cx="500" cy="443.5" r="6.5"/>
<circle cx="755" cy="421.5" r="6.5"/>
<circle cx="843.5" cy="439" r="6.5"/>
<circle cx="925" cy="440" r="6.5"/>
<circle cx="1031" cy="524" r="6.5"/>
<circle cx="692.5" cy="746.5" r="6.5"/>
<circle cx="1031" cy="524" r="6.5"/>
<circle cx="1191" cy="526.5" r="6.5"/>
<circle cx="1289" cy="521" r="6.5"/>
</g>
<g stroke="#c62d2c" stroke-width="4" stroke-opacity="0.88">
<line x1="341" y1="195" x2="341" y2="275"/>
<line x1="544" y1="273" x2="537" y2="738"/>
<line x1="644" y1="271" x2="630.5" y2="770"/>
<line x1="890" y1="300" x2="877" y2="818"/>
<line x1="1090" y1="322" x2="1077" y2="1337"/>
<line x1="1225" y1="327" x2="1207" y2="1400"/>
<line x1="1380.5" y1="330" x2="1380.5" y2="541"/>
<line x1="1533" y1="332" x2="1533" y2="579"/>
<line x1="1639" y1="335" x2="1636" y2="630"/>
<line x1="1847" y1="347" x2="1847" y2="485"/>
<line x1="1942" y1="350" x2="1938" y2="605"/>
<line x1="2051" y1="356" x2="2051" y2="507"/>
<line x1="2162" y1="362" x2="2162" y2="552"/>
<line x1="2311" y1="365" x2="2304" y2="730"/>
<line x1="2387" y1="366" x2="2387" y2="610"/>
</g>
<rect x="261.5" y="84" width="29" height="1384" fill="#fff" stroke="#d8d8d8" stroke-width="2"/>
<rect x="261.5" y="84.5" width="29" height="72" fill="#343434"/>
<rect x="261.5" y="228" width="29" height="72" fill="#343434"/>
<rect x="261.5" y="375.3" width="29" height="72" fill="#343434"/>
<rect x="261.5" y="523.4" width="29" height="72" fill="#343434"/>
<rect x="261.5" y="667.9" width="29" height="72" fill="#343434"/>
<rect x="261.5" y="814" width="29" height="72" fill="#343434"/>
<rect x="261.5" y="960.3" width="29" height="72" fill="#343434"/>
<rect x="261.5" y="1106.6" width="29" height="72" fill="#343434"/>
<rect x="261.5" y="1251.8" width="29" height="72" fill="#343434"/>
<rect x="261.5" y="1395" width="29" height="72" fill="#343434"/>
<text x="149.3" y="217.7" textLength="54.6" lengthAdjust="spacingAndGlyphs" font-size="49" fill="#151515" font-weight="bold">80</text>
<text x="150.4" y="297.7" textLength="53.4" lengthAdjust="spacingAndGlyphs" font-size="49" fill="#151515" font-weight="bold">40</text>
<text x="160.6" y="359.4" textLength="27.5" lengthAdjust="spacingAndGlyphs" font-size="49" fill="#151515" font-weight="bold">0</text>
<text x="149.3" y="440.5" textLength="70.3" lengthAdjust="spacingAndGlyphs" font-size="49" fill="#151515" font-weight="bold">-40</text>
<text x="149.3" y="505.7" textLength="70.3" lengthAdjust="spacingAndGlyphs" font-size="49" fill="#151515" font-weight="bold">-80</text>
<text x="149.3" y="585" textLength="97.5" lengthAdjust="spacingAndGlyphs" font-size="49" fill="#151515" font-weight="bold">-120</text>
<text x="149.3" y="645" textLength="97.5" lengthAdjust="spacingAndGlyphs" font-size="49" fill="#151515" font-weight="bold">-160</text>
<text x="149.3" y="717.2" textLength="97.5" lengthAdjust="spacingAndGlyphs" font-size="49" fill="#151515" font-weight="bold">-200</text>
<text x="149.3" y="809.7" textLength="97.5" lengthAdjust="spacingAndGlyphs" font-size="49" fill="#151515" font-weight="bold">-240</text>
<text x="149.3" y="876.7" textLength="97.5" lengthAdjust="spacingAndGlyphs" font-size="49" fill="#151515" font-weight="bold">-280</text>
<text x="149.3" y="947.2" textLength="97.5" lengthAdjust="spacingAndGlyphs" font-size="49" fill="#151515" font-weight="bold">-320</text>
<text x="146.9" y="1014.2" textLength="97.7" lengthAdjust="spacingAndGlyphs" font-size="49" fill="#151515" font-weight="bold">-360</text>
<text x="149.3" y="1088.2" textLength="97.5" lengthAdjust="spacingAndGlyphs" font-size="49" fill="#151515" font-weight="bold">-400</text>
<text x="149.3" y="1167.5" textLength="97.5" lengthAdjust="spacingAndGlyphs" font-size="49" fill="#151515" font-weight="bold">-440</text>
<text x="149.3" y="1243.3" textLength="97.5" lengthAdjust="spacingAndGlyphs" font-size="49" fill="#151515" font-weight="bold">-480</text>
<text x="149.3" y="1305" textLength="97.5" lengthAdjust="spacingAndGlyphs" font-size="49" fill="#151515" font-weight="bold">-520</text>
<text x="149.3" y="1370.2" textLength="97.5" lengthAdjust="spacingAndGlyphs" font-size="49" fill="#151515" font-weight="bold">-560</text>
<text x="149.3" y="1423.1" textLength="97.5" lengthAdjust="spacingAndGlyphs" font-size="49" fill="#151515" font-weight="bold">-600</text>
<text x="302.7" y="71" textLength="38.6" lengthAdjust="spacingAndGlyphs" font-size="51" fill="#a01218" font-weight="bold">A</text>
<text x="2372" y="93" textLength="59.7" lengthAdjust="spacingAndGlyphs" font-size="51" fill="#a01218" font-weight="bold">A'</text>
<text x="2087.6" y="127" textLength="105.4" lengthAdjust="spacingAndGlyphs" font-size="59" fill="#151515" font-weight="bold">SW</text>
<path d="M2008.6 161H2249L2196.5 127" fill="none" stroke="#111" stroke-width="3.4"/>
<text x="314.3" y="1385" textLength="227" lengthAdjust="spacingAndGlyphs" font-size="46" fill="#151515" font-weight="bold">Elevation</text>
<text x="325" y="1448.5" textLength="83.3" lengthAdjust="spacingAndGlyphs" font-size="46" fill="#151515" font-weight="bold">(m)</text>
<text x="335.5" y="121.8" textLength="178.9" lengthAdjust="spacingAndGlyphs" font-size="49" fill="#151515" font-weight="bold">1816-15</text>
<line x1="325.7" y1="140.5" x2="483.5" y2="140.5" stroke="#222" stroke-width="3.2"/>
<text x="341.2" y="184.5" textLength="117.2" lengthAdjust="spacingAndGlyphs" font-size="49" fill="#151515" font-weight="bold">43.00</text>
<text x="478.4" y="195.6" textLength="174.1" lengthAdjust="spacingAndGlyphs" font-size="49" fill="#151515" font-weight="bold">1714-17</text>
<line x1="480.2" y1="202.8" x2="638" y2="202.8" stroke="#222" stroke-width="3.2"/>
<text x="494.4" y="247.8" textLength="119.9" lengthAdjust="spacingAndGlyphs" font-size="49" fill="#151515" font-weight="bold">243.2</text>
<text x="671.1" y="200.3" textLength="133.5" lengthAdjust="spacingAndGlyphs" font-size="49" fill="#151515" font-weight="bold">hr001</text>
<line x1="658" y1="209.8" x2="817.3" y2="209.8" stroke="#222" stroke-width="3.2"/>
<text x="648.8" y="256.2" textLength="148.1" lengthAdjust="spacingAndGlyphs" font-size="49" fill="#151515" font-weight="bold">264.59</text>
<text x="840.8" y="229.3" textLength="111.5" lengthAdjust="spacingAndGlyphs" font-size="49" fill="#151515" font-weight="bold">S236</text>
<line x1="822" y1="237.9" x2="979.8" y2="237.9" stroke="#222" stroke-width="3.2"/>
<text x="824.6" y="280.5" textLength="141.8" lengthAdjust="spacingAndGlyphs" font-size="49" fill="#151515" font-weight="bold">277.20</text>
<text x="1001.7" y="247.8" textLength="116" lengthAdjust="spacingAndGlyphs" font-size="49" fill="#151515" font-weight="bold">S180</text>
<line x1="993" y1="257" x2="1150" y2="257" stroke="#222" stroke-width="3.2"/>
<text x="1004.9" y="300.5" textLength="118.1" lengthAdjust="spacingAndGlyphs" font-size="49" fill="#151515" font-weight="bold">552.7</text>
<text x="1162.5" y="272.3" textLength="112.1" lengthAdjust="spacingAndGlyphs" font-size="49" fill="#151515" font-weight="bold">zh16</text>
<line x1="1145" y1="282.5" x2="1304" y2="282.5" stroke="#222" stroke-width="3.2"/>
<text x="1161.3" y="320.5" textLength="85.4" lengthAdjust="spacingAndGlyphs" font-size="49" fill="#151515" font-weight="bold">880</text>
<text x="1323.9" y="250.8" textLength="107.8" lengthAdjust="spacingAndGlyphs" font-size="49" fill="#151515" font-weight="bold">cy33</text>
<line x1="1307.5" y1="270" x2="1415" y2="270" stroke="#222" stroke-width="3.2"/>
<text x="1324.2" y="313" textLength="120" lengthAdjust="spacingAndGlyphs" font-size="49" fill="#151515" font-weight="bold">113.5</text>
<text x="1491.4" y="265.8" textLength="102.7" lengthAdjust="spacingAndGlyphs" font-size="49" fill="#151515" font-weight="bold">cy45</text>
<line x1="1472.5" y1="282.5" x2="1582.5" y2="282.5" stroke="#222" stroke-width="3.2"/>
<text x="1466.8" y="315.5" textLength="118.9" lengthAdjust="spacingAndGlyphs" font-size="49" fill="#151515" font-weight="bold">135.5</text>
<text x="1620.3" y="273.3" textLength="67.3" lengthAdjust="spacingAndGlyphs" font-size="49" fill="#151515" font-weight="bold">G1</text>
<line x1="1610" y1="280" x2="1715" y2="280" stroke="#222" stroke-width="3.2"/>
<text x="1609.3" y="325.5" textLength="118.4" lengthAdjust="spacingAndGlyphs" font-size="49" fill="#151515" font-weight="bold">186.1</text>
<text x="1749.9" y="284.3" textLength="81.1" lengthAdjust="spacingAndGlyphs" font-size="49" fill="#151515" font-weight="bold">dx6</text>
<line x1="1752.5" y1="294" x2="1828" y2="294" stroke="#222" stroke-width="3.2"/>
<text x="1753.9" y="334.5" textLength="90.6" lengthAdjust="spacingAndGlyphs" font-size="49" fill="#151515" font-weight="bold">77.6</text>
<text x="1870.9" y="283.8" textLength="107.7" lengthAdjust="spacingAndGlyphs" font-size="49" fill="#151515" font-weight="bold">dx30</text>
<line x1="1854.5" y1="291.5" x2="1959.5" y2="291.5" stroke="#222" stroke-width="3.2"/>
<text x="1861.3" y="335.5" textLength="117.3" lengthAdjust="spacingAndGlyphs" font-size="49" fill="#151515" font-weight="bold">155.5</text>
<text x="1987.4" y="282.3" textLength="147.2" lengthAdjust="spacingAndGlyphs" font-size="49" fill="#151515" font-weight="bold">266-37</text>
<line x1="1987" y1="299" x2="2093" y2="299" stroke="#222" stroke-width="3.2"/>
<text x="1989.9" y="338" textLength="90.1" lengthAdjust="spacingAndGlyphs" font-size="49" fill="#151515" font-weight="bold">84.7</text>
<text x="2139.9" y="300.3" textLength="72.6" lengthAdjust="spacingAndGlyphs" font-size="49" fill="#151515" font-weight="bold">dt7</text>
<line x1="2105" y1="314.5" x2="2212.5" y2="314.5" stroke="#222" stroke-width="3.2"/>
<text x="2102.7" y="351.5" textLength="81" lengthAdjust="spacingAndGlyphs" font-size="49" fill="#151515" font-weight="bold">109</text>
<text x="2214.9" y="296.3" textLength="133.2" lengthAdjust="spacingAndGlyphs" font-size="49" fill="#151515" font-weight="bold">dx012</text>
<line x1="2204" y1="308.5" x2="2309.5" y2="308.5" stroke="#222" stroke-width="3.2"/>
<text x="2210.3" y="349.5" textLength="80.9" lengthAdjust="spacingAndGlyphs" font-size="49" fill="#151515" font-weight="bold">208</text>
<text x="2353.4" y="308.3" textLength="80.2" lengthAdjust="spacingAndGlyphs" font-size="49" fill="#151515" font-weight="bold">009</text>
<line x1="2304.5" y1="319" x2="2434.5" y2="319" stroke="#222" stroke-width="3.2"/>
<text x="2311.2" y="355.5" textLength="121.5" lengthAdjust="spacingAndGlyphs" font-size="49" fill="#151515" font-weight="bold">140.8</text>
<text x="1756.2" y="495" textLength="13.7" lengthAdjust="spacingAndGlyphs" font-size="44" fill="#222" font-weight="bold">I</text>
<text x="1783.2" y="552" textLength="27.7" lengthAdjust="spacingAndGlyphs" font-size="44" fill="#222" font-weight="bold">II</text>
<text x="1004.1" y="822" textLength="30.9" lengthAdjust="spacingAndGlyphs" font-size="44" fill="#222" font-weight="bold">II</text>
<text x="1025.1" y="894" textLength="45.9" lengthAdjust="spacingAndGlyphs" font-size="44" fill="#222" font-weight="bold">III</text>
<rect x="1402" y="1029" width="87" height="36" fill="url(#hatchT)"/>
<text x="1505" y="1050" textLength="255.9" lengthAdjust="spacingAndGlyphs" font-size="49" fill="#151515" font-weight="bold">Aquiclude</text>
<rect x="1798" y="1028" width="76" height="34" fill="#8fcef2"/>
<text x="1901.7" y="1067" textLength="289" lengthAdjust="spacingAndGlyphs" font-size="49" fill="#151515" font-weight="bold">Sand gravel</text>
<rect x="1403" y="1107.5" width="87" height="35" fill="#db9c50" stroke="#b58a55" stroke-width="1"/>
<text x="1505" y="1132" textLength="322.1" lengthAdjust="spacingAndGlyphs" font-size="49" fill="#151515" font-weight="bold">Pedestal rock</text>
<rect x="1876" y="1149" width="233" height="14" fill="#fff" stroke="#111" stroke-width="2.4"/>
<rect x="1876" y="1148" width="117" height="16" fill="#111"/>
<text x="2118.9" y="1169" textLength="75" lengthAdjust="spacingAndGlyphs" font-size="49" fill="#151515" font-weight="bold">km</text>
<text x="1875.8" y="1216" textLength="27.4" lengthAdjust="spacingAndGlyphs" font-size="46" fill="#151515" font-weight="bold">0</text>
<text x="1981.8" y="1216" textLength="54.4" lengthAdjust="spacingAndGlyphs" font-size="46" fill="#151515" font-weight="bold">60</text>
<text x="2079.4" y="1216" textLength="83.9" lengthAdjust="spacingAndGlyphs" font-size="46" fill="#151515" font-weight="bold">120</text>
<rect x="1405" y="1185" width="83" height="35" fill="url(#aerT)" stroke="#ddd" stroke-width="1"/>
<text x="1514" y="1218" textLength="316.8" lengthAdjust="spacingAndGlyphs" font-size="49" fill="#151515" font-weight="bold">Aeration zone</text>
<line x1="1396" y1="1269" x2="1484" y2="1269" stroke="#6aa6da" stroke-width="2"/>
<path d="M1405 1258l3 5 3-5M1425 1258l3 5 3-5M1445 1258l3 5 3-5M1465 1258l3 5 3-5" stroke="#8ab8e0" stroke-width="1.5" fill="none"/>
<text x="1512" y="1287" textLength="664.9" lengthAdjust="spacingAndGlyphs" font-size="49" fill="#151515" font-weight="bold">Boundary of phreatic water</text>
<line x1="1409" y1="1343" x2="1486" y2="1343" stroke="#333" stroke-width="2.4" stroke-dasharray="4 4"/>
<text x="1509.6" y="1353" textLength="623.3" lengthAdjust="spacingAndGlyphs" font-size="49" fill="#151515" font-weight="bold">Confined water level line</text>
<line x1="1306" y1="1409.5" x2="1386" y2="1409.5" stroke="#111" stroke-width="3"/>
<text x="1409" y="1428" textLength="1046.3" lengthAdjust="spacingAndGlyphs" font-size="49" fill="#151515" font-weight="bold">Boundary of water-bearing  rock formation</text>
</g>
<g id="bottom">
<path d="M342.5 1735C345.4 1764.2 355.4 1855.8 360 1910C364.6 1964.2 367.5 2010 370 2060C372.5 2110 372.5 2163.3 375 2210C377.5 2256.7 380.8 2301.7 385 2340C389.2 2378.3 394.2 2402.5 400 2440C405.8 2477.5 413.3 2539.2 420 2565C426.7 2590.8 432.5 2587.1 440 2595C447.5 2602.9 456.7 2608.9 465 2612.5C473.3 2616.1 480.8 2620.2 490 2616.5C499.2 2612.8 510 2606.9 520 2590C530 2573.1 540 2541.7 550 2515C560 2488.3 570 2459.2 580 2430C590 2400.8 603.3 2364.2 610 2340C616.7 2315.8 615 2306.7 620 2285C625 2263.3 635.4 2233.3 640 2210C644.6 2186.7 644.2 2160.8 647.5 2145C650.8 2129.2 653.8 2122.7 660 2115C666.2 2107.3 680.8 2101.7 685 2099L685 2099C700.8 2099.6 755.8 2101.7 780 2102.5C804.2 2103.3 813.3 2101.9 830 2104C846.7 2106.1 863.3 2109 880 2115C896.7 2121 913.3 2128.3 930 2140C946.7 2151.7 963.3 2167.5 980 2185C996.7 2202.5 1013.3 2224.2 1030 2245C1046.7 2265.8 1063.3 2288.3 1080 2310C1096.7 2331.7 1113.3 2354.2 1130 2375C1146.7 2395.8 1163.3 2415.8 1180 2435C1196.7 2454.2 1213.3 2471.7 1230 2490C1246.7 2508.3 1263.3 2527.5 1280 2545C1296.7 2562.5 1313.3 2578.3 1330 2595C1346.7 2611.7 1360 2623.8 1380 2645C1400 2666.2 1425 2694.5 1450 2722C1475 2749.5 1503 2780.3 1530 2810C1557 2839.7 1598.3 2885 1612 2900L1613 2857C1599.2 2841.7 1558 2796.2 1530 2765C1502 2733.8 1465.8 2692.5 1445 2670C1424.2 2647.5 1420 2644.2 1405 2630C1390 2615.8 1371.7 2601.7 1355 2585C1338.3 2568.3 1321.7 2549.2 1305 2530C1288.3 2510.8 1271.7 2489.2 1255 2470C1238.3 2450.8 1221.7 2434.2 1205 2415C1188.3 2395.8 1171.7 2375.8 1155 2355C1138.3 2334.2 1121.7 2310.8 1105 2290C1088.3 2269.2 1071.7 2250 1055 2230C1038.3 2210 1021.7 2187.5 1005 2170C988.3 2152.5 971.7 2136.7 955 2125C938.3 2113.3 923.3 2107.1 905 2100C886.7 2092.9 865.8 2085.4 845 2082.5C824.2 2079.6 813.3 2082.4 780 2082.5C746.7 2082.6 667.5 2082.9 645 2083L637.5 2085C636.2 2097.5 633.8 2139.2 630 2160C626.2 2180.8 621.7 2185 615 2210C608.3 2235 595.8 2288.3 590 2310C584.2 2331.7 585 2322.5 580 2340C575 2357.5 566.7 2390 560 2415C553.3 2440 547.5 2465.8 540 2490C532.5 2514.2 522.9 2542.5 515 2560C507.1 2577.5 498.3 2589.2 492.5 2595C486.7 2600.8 486.2 2598.3 480 2595C473.8 2591.7 461.7 2588.3 455 2575C448.3 2561.7 445 2541.7 440 2515C435 2488.3 429.2 2444.2 425 2415C420.8 2385.8 418.3 2365.8 415 2340C411.7 2314.2 408.3 2290 405 2260C401.7 2230 397.9 2201.7 395 2160C392.1 2118.3 390.8 2060 387.5 2010C384.2 1960 379.2 1905 375 1860C370.8 1815 364.6 1760 362.5 1740Z" fill="#db9c50" stroke="#7a5a30" stroke-width="1.5" stroke-linejoin="round"/>
<clipPath id="bclip"><path d="M362.5 1741C374.6 1742.9 412.1 1746.8 435 1752.5C457.9 1758.2 480.8 1767.5 500 1775C519.2 1782.5 533.3 1786.7 550 1797.5C566.7 1808.3 584.2 1826.2 600 1840C615.8 1853.8 628.3 1868.3 645 1880C661.7 1891.7 682.5 1901.2 700 1910C717.5 1918.8 733.3 1925.8 750 1932.5C766.7 1939.2 783.8 1945 800 1950C816.2 1955 823.3 1955.4 847.5 1962.5C871.7 1969.6 914.6 1983.8 945 1992.5C975.4 2001.2 992.5 2005.6 1030 2015C1067.5 2024.4 1128.3 2039.8 1170 2049C1211.7 2058.2 1245 2063.6 1280 2070C1315 2076.4 1346.7 2082.5 1380 2087.5C1413.3 2092.5 1454 2094.1 1480 2100C1506 2105.9 1516 2115.5 1536 2123C1556 2130.5 1586.3 2140.2 1600 2145C1613.7 2149.8 1601.3 2148.7 1618 2152C1634.7 2155.3 1671 2161.8 1700 2165C1729 2168.2 1751 2168.8 1792 2171C1833 2173.2 1904.3 2173.9 1946 2178C1987.7 2182.1 2002.3 2187.7 2042 2195.6C2081.7 2203.5 2149.3 2219 2184 2225.5C2218.7 2232 2239 2233 2250 2234.5L2250 2737C2228.2 2734.6 2155.4 2725.8 2119 2722.4C2082.6 2719 2070.4 2714.6 2031.4 2716.5C1992.4 2718.4 1926 2728.2 1885 2734C1844 2739.8 1814.9 2742.8 1785.7 2751.6C1756.5 2760.4 1732 2773 1709.6 2786.7C1687.1 2800.3 1667.1 2821.8 1651 2833.5C1634.9 2845.2 1619.3 2853.1 1613 2857C1599.2 2841.7 1558 2796.2 1530 2765C1502 2733.8 1465.8 2692.5 1445 2670C1424.2 2647.5 1420 2644.2 1405 2630C1390 2615.8 1371.7 2601.7 1355 2585C1338.3 2568.3 1321.7 2549.2 1305 2530C1288.3 2510.8 1271.7 2489.2 1255 2470C1238.3 2450.8 1221.7 2434.2 1205 2415C1188.3 2395.8 1171.7 2375.8 1155 2355C1138.3 2334.2 1121.7 2310.8 1105 2290C1088.3 2269.2 1071.7 2250 1055 2230C1038.3 2210 1021.7 2187.5 1005 2170C988.3 2152.5 971.7 2136.7 955 2125C938.3 2113.3 923.3 2107.1 905 2100C886.7 2092.9 865.8 2085.4 845 2082.5C824.2 2079.6 813.3 2082.4 780 2082.5C746.7 2082.6 667.5 2082.9 645 2083L637.5 2085C636.2 2097.5 633.8 2139.2 630 2160C626.2 2180.8 621.7 2185 615 2210C608.3 2235 595.8 2288.3 590 2310C584.2 2331.7 585 2322.5 580 2340C575 2357.5 566.7 2390 560 2415C553.3 2440 547.5 2465.8 540 2490C532.5 2514.2 522.9 2542.5 515 2560C507.1 2577.5 498.3 2589.2 492.5 2595C486.7 2600.8 486.2 2598.3 480 2595C473.8 2591.7 461.7 2588.3 455 2575C448.3 2561.7 445 2541.7 440 2515C435 2488.3 429.2 2444.2 425 2415C420.8 2385.8 418.3 2365.8 415 2340C411.7 2314.2 408.3 2290 405 2260C401.7 2230 397.9 2201.7 395 2160C392.1 2118.3 390.8 2060 387.5 2010C384.2 1960 379.2 1905 375 1860C370.8 1815 364.6 1760 362.5 1740Z"/></clipPath>
<path d="M362.5 1741C374.6 1742.9 412.1 1746.8 435 1752.5C457.9 1758.2 480.8 1767.5 500 1775C519.2 1782.5 533.3 1786.7 550 1797.5C566.7 1808.3 584.2 1826.2 600 1840C615.8 1853.8 628.3 1868.3 645 1880C661.7 1891.7 682.5 1901.2 700 1910C717.5 1918.8 733.3 1925.8 750 1932.5C766.7 1939.2 783.8 1945 800 1950C816.2 1955 823.3 1955.4 847.5 1962.5C871.7 1969.6 914.6 1983.8 945 1992.5C975.4 2001.2 992.5 2005.6 1030 2015C1067.5 2024.4 1128.3 2039.8 1170 2049C1211.7 2058.2 1245 2063.6 1280 2070C1315 2076.4 1346.7 2082.5 1380 2087.5C1413.3 2092.5 1454 2094.1 1480 2100C1506 2105.9 1516 2115.5 1536 2123C1556 2130.5 1586.3 2140.2 1600 2145C1613.7 2149.8 1601.3 2148.7 1618 2152C1634.7 2155.3 1671 2161.8 1700 2165C1729 2168.2 1751 2168.8 1792 2171C1833 2173.2 1904.3 2173.9 1946 2178C1987.7 2182.1 2002.3 2187.7 2042 2195.6C2081.7 2203.5 2149.3 2219 2184 2225.5C2218.7 2232 2239 2233 2250 2234.5L2250 2737C2228.2 2734.6 2155.4 2725.8 2119 2722.4C2082.6 2719 2070.4 2714.6 2031.4 2716.5C1992.4 2718.4 1926 2728.2 1885 2734C1844 2739.8 1814.9 2742.8 1785.7 2751.6C1756.5 2760.4 1732 2773 1709.6 2786.7C1687.1 2800.3 1667.1 2821.8 1651 2833.5C1634.9 2845.2 1619.3 2853.1 1613 2857C1599.2 2841.7 1558 2796.2 1530 2765C1502 2733.8 1465.8 2692.5 1445 2670C1424.2 2647.5 1420 2644.2 1405 2630C1390 2615.8 1371.7 2601.7 1355 2585C1338.3 2568.3 1321.7 2549.2 1305 2530C1288.3 2510.8 1271.7 2489.2 1255 2470C1238.3 2450.8 1221.7 2434.2 1205 2415C1188.3 2395.8 1171.7 2375.8 1155 2355C1138.3 2334.2 1121.7 2310.8 1105 2290C1088.3 2269.2 1071.7 2250 1055 2230C1038.3 2210 1021.7 2187.5 1005 2170C988.3 2152.5 971.7 2136.7 955 2125C938.3 2113.3 923.3 2107.1 905 2100C886.7 2092.9 865.8 2085.4 845 2082.5C824.2 2079.6 813.3 2082.4 780 2082.5C746.7 2082.6 667.5 2082.9 645 2083L637.5 2085C636.2 2097.5 633.8 2139.2 630 2160C626.2 2180.8 621.7 2185 615 2210C608.3 2235 595.8 2288.3 590 2310C584.2 2331.7 585 2322.5 580 2340C575 2357.5 566.7 2390 560 2415C553.3 2440 547.5 2465.8 540 2490C532.5 2514.2 522.9 2542.5 515 2560C507.1 2577.5 498.3 2589.2 492.5 2595C486.7 2600.8 486.2 2598.3 480 2595C473.8 2591.7 461.7 2588.3 455 2575C448.3 2561.7 445 2541.7 440 2515C435 2488.3 429.2 2444.2 425 2415C420.8 2385.8 418.3 2365.8 415 2340C411.7 2314.2 408.3 2290 405 2260C401.7 2230 397.9 2201.7 395 2160C392.1 2118.3 390.8 2060 387.5 2010C384.2 1960 379.2 1905 375 1860C370.8 1815 364.6 1760 362.5 1740Z" fill="url(#hatchB)"/>
<g clip-path="url(#bclip)">
<path d="M350 1730L362.5 1741L435 1752.5L500 1775L550 1797.5L600 1840L645 1880L700 1910L750 1932.5L800 1950L847.5 1962.5L945 1992.5L1000 2015L1030 2035L990 2042L955 2050L1000 2055L1030 2060L1000 2068L990 2073L1050 2080L1000 2086L980 2095L1010 2108L940 2115L880 2110L640 2090L600 2080L500 2052L385 2022L350 2000Z" fill="url(#aerB)"/>
<path d="M900 2100L925 2105L980 2115L1170 2117.5L1325 2118L1395.8 2112.7L1478 2101L1480 2098L1536 2121L1620 2150L1599.4 2153L1478 2151L1343 2143.5L1150 2133L970 2128.5Z" fill="url(#aerL)"/>
<path d="M417.5 1792.5L440 1780L445 1762.5L500 1775L555 1800L550 1807.5L425 1800Z" fill="url(#hatchB)"/>
<path d="M2096.8 2240.6L2252 2242L2252 2255.3L2184.5 2251.8Z" fill="#f4f4f6"/>
<path d="M1770 2199L1860 2201L1868 2212L1800 2212Z" fill="#f4f4f6"/>
<g fill="#8ccbf1">
<path d="M970 2127.5L1150 2132L1343 2144L1388.8 2168.8L1392 2179L1385 2190L1357 2200L1332.6 2211L1340 2216L1395.8 2220L1536 2221.5L1557 2246L1546.8 2256.6L1395.8 2267L1315 2270.7L1332.6 2279.5L1395.8 2290L1617 2295L1700 2311.5L1735 2322L1792 2332.6L1847.5 2337.9L1879 2342.4L1840.4 2346.6L1792 2350L1700 2357L1618 2356L1500 2355L1400 2355L1357 2362L1400 2373L1546 2368L1618 2374L1700 2382L1792 2390L1910 2390L2042 2393L2086 2398L2042 2402L1910 2403.5L1792 2404.5L1735 2397.5L1700 2392L1618.7 2384.8L1546.8 2379.5L1478.3 2383L1325.6 2391.8L1197.4 2397L1100 2397L900 2127Z"/>
<path d="M1200 2428.7L1325.6 2423.4L1478.3 2420L1750 2420L1792 2427L2042 2427L2183.8 2424L2252 2424L2252 2601L2246 2601L2177.5 2595L2121.3 2589L2033.6 2579L1981 2577.7L1875.6 2583.6L1786 2591.7L1745.6 2564.3L1700 2539.7L1660 2529L1615 2527L1599.4 2499L1571 2472.6L1539.7 2463.8L1536 2441L1501 2435.7L1478.3 2435L1360.7 2437.5L1200 2446Z"/>
<path d="M1250 2497L1478.3 2495.4L1501 2499L1536 2513L1557.5 2523.4L1504.8 2541L1481.4 2558.5L1493 2576L1551.6 2587.8L1475.5 2596.5L1376 2599.5L1300 2600Z"/>
<path d="M1480 2746L1680 2746L1686 2757L1663 2769L1709.6 2781L1704 2790L1520 2793Z"/>
<path d="M1724.6 2255.3C1726.3 2254.7 1723.8 2252.1 1735 2251.8C1746.2 2251.5 1768.6 2252.4 1792 2253.6C1815.4 2254.8 1844.1 2255.9 1875.6 2258.8C1907.1 2261.7 1953.2 2267.5 1981 2271C2008.8 2274.5 2018.9 2277.1 2042.3 2280C2065.7 2282.9 2097.7 2285.8 2121.3 2288.7C2144.9 2291.6 2162 2292.5 2183.8 2297.5C2205.6 2302.5 2240.6 2315 2252 2318.5L2252 2364C2240.6 2359.3 2205.6 2344.2 2183.8 2336C2162 2327.8 2144.9 2322 2121.3 2315C2097.7 2308 2065.7 2299.8 2042.3 2294C2018.9 2288.2 2008.8 2282.9 1981 2280C1953.2 2277.1 1907.1 2277.6 1875.6 2276.4C1844.1 2275.2 1815.4 2275.6 1792 2273C1768.6 2270.4 1746.2 2263.5 1735 2260.6C1723.8 2257.7 1726.3 2256.2 1724.6 2255.3Z"/>
<path d="M385 2019C395.8 2021.2 430.8 2028.2 450 2032.5C469.2 2036.8 483.3 2040.8 500 2045C516.7 2049.2 533.3 2053.8 550 2057.5C566.7 2061.2 584.2 2065 600 2067.5C615.8 2070 628.3 2071.6 645 2072.5C661.7 2073.4 665.2 2072.6 700 2073C734.8 2073.4 804 2074.2 854 2075C904 2075.8 967.3 2077.2 1000 2078C1032.7 2078.8 1041.7 2079.7 1050 2080L1050 2080C1041.7 2080.3 1032.7 2081.4 1000 2082C967.3 2082.6 904 2083.2 854 2083.5C804 2083.8 734.8 2083.2 700 2083.5C665.2 2083.8 661.7 2085.6 645 2085C628.3 2084.4 615.8 2082.5 600 2080C584.2 2077.5 566.7 2073.7 550 2070C533.3 2066.3 516.7 2062.2 500 2058C483.3 2053.8 469.2 2049.5 450 2045C430.8 2040.5 395.8 2033.3 385 2031Z"/>
<path d="M1738 2207C1739.8 2206.4 1744.4 2204.3 1749 2203.2C1753.6 2202 1756.7 2200.5 1765.6 2200C1774.5 2199.5 1793.5 2199.5 1802.4 2200C1811.3 2200.5 1814.4 2202 1819 2203.2C1823.6 2204.3 1828.2 2206.4 1830 2207L1830 2207C1828.2 2207.6 1823.6 2209.7 1819 2210.8C1814.4 2212 1811.3 2213.5 1802.4 2214C1793.5 2214.5 1774.5 2214.5 1765.6 2214C1756.7 2213.5 1753.6 2212 1749 2210.8C1744.4 2209.7 1739.8 2207.6 1738 2207Z"/>
<path d="M1565 2611C1566.5 2610.6 1570.2 2609.5 1574 2608.8C1577.8 2608.1 1580.2 2607.3 1587.5 2607C1594.8 2606.7 1610.2 2606.7 1617.5 2607C1624.8 2607.3 1627.2 2608.1 1631 2608.8C1634.8 2609.5 1638.5 2610.6 1640 2611L1640 2611C1638.5 2611.4 1634.8 2612.5 1631 2613.2C1627.2 2613.9 1624.8 2614.7 1617.5 2615C1610.2 2615.3 1594.8 2615.3 1587.5 2615C1580.2 2614.7 1577.8 2613.9 1574 2613.2C1570.2 2612.5 1566.5 2611.4 1565 2611Z"/>
<path d="M1534 2664C1536.8 2663.7 1543.8 2662.8 1550.8 2662.3C1557.8 2661.8 1562.5 2661.2 1576 2661C1589.5 2660.8 1618.5 2660.8 1632 2661C1645.5 2661.2 1650.2 2661.8 1657.2 2662.3C1664.2 2662.8 1671.2 2663.7 1674 2664L1674 2664C1671.2 2664.3 1664.2 2665.2 1657.2 2665.7C1650.2 2666.2 1645.5 2666.8 1632 2667C1618.5 2667.2 1589.5 2667.2 1576 2667C1562.5 2666.8 1557.8 2666.2 1550.8 2665.7C1543.8 2665.2 1536.8 2664.3 1534 2664Z"/>
<path d="M1721 2633.5C1727.8 2632.4 1744.7 2629.1 1761.7 2627.2C1778.6 2625.3 1789.9 2622.9 1822.7 2622C1855.5 2621.1 1925.5 2621.1 1958.3 2622C1991.1 2622.9 2002.4 2625.3 2019.3 2627.2C2036.3 2629.1 2053.2 2632.4 2060 2633.5L2060 2633.5C2053.2 2634.6 2036.3 2637.9 2019.3 2639.8C2002.4 2641.7 1991.1 2644.1 1958.3 2645C1925.5 2645.9 1855.5 2645.9 1822.7 2645C1789.9 2644.1 1778.6 2641.7 1761.7 2639.8C1744.7 2637.9 1727.8 2634.6 1721 2633.5Z"/>
<path d="M1932 2690C1935.2 2689.7 1943.1 2688.8 1951 2688.3C1958.9 2687.8 1964.1 2687.2 1979.4 2687C1994.7 2686.8 2027.3 2686.8 2042.6 2687C2057.9 2687.2 2063.1 2687.8 2071 2688.3C2078.9 2688.8 2086.8 2689.7 2090 2690L2090 2690C2086.8 2690.3 2078.9 2691.2 2071 2691.7C2063.1 2692.2 2057.9 2692.8 2042.6 2693C2027.3 2693.2 1994.7 2693.2 1979.4 2693C1964.1 2692.8 1958.9 2692.2 1951 2691.7C1943.1 2691.2 1935.2 2690.3 1932 2690Z"/>
<path d="M1944 2713.5C1947.7 2713 1957.1 2711.4 1966.4 2710.5C1975.8 2709.6 1982 2708.4 2000.1 2708C2018.2 2707.6 2056.8 2707.6 2074.9 2708C2093 2708.4 2099.2 2709.6 2108.6 2710.5C2117.9 2711.4 2127.3 2713 2131 2713.5L2131 2713.5C2127.3 2714 2117.9 2715.6 2108.6 2716.5C2099.2 2717.4 2093 2718.6 2074.9 2719C2056.8 2719.4 2018.2 2719.4 2000.1 2719C1982 2718.6 1975.8 2717.4 1966.4 2716.5C1957.1 2715.6 1947.7 2714 1944 2713.5Z"/>
</g>
<path d="M2205.6 2297.5L2252 2297.5L2252 2318.5Z" fill="#f4f4f6"/>
<g fill="url(#hatchB)">
<path d="M1914 2522L1945.8 2517L2016 2518.6L2042.3 2524L2086 2527.5L2103.8 2532.7L2086 2541.5L2121.3 2553.8L2191.6 2567.8L2156.5 2571.3L2051 2569.6L1998.5 2559L1952.8 2550.3L1945.8 2539.7L1917.7 2529.2Z"/>
<path d="M1728 2455.5C1740 2454.4 1754.7 2450.2 1800 2449C1845.3 2447.8 1936.2 2448.3 2000 2448.5C2063.8 2448.7 2141 2449.4 2183 2450C2225 2450.6 2240.5 2451.7 2252 2452L2252 2473C2240.5 2472.2 2225 2469.8 2183 2468C2141 2466.2 2063.8 2463.5 2000 2462.5C1936.2 2461.5 1845.3 2463.2 1800 2462C1754.7 2460.8 1740 2456.6 1728 2455.5Z"/>
<path d="M1735 2483.5C1742.9 2482.7 1762.8 2480.2 1782.6 2478.8C1802.5 2477.4 1815.7 2475.6 1854.1 2475C1892.5 2474.4 1974.5 2474.4 2012.9 2475C2051.3 2475.6 2064.5 2477.4 2084.4 2478.8C2104.2 2480.2 2124.1 2482.7 2132 2483.5L2132 2483.5C2124.1 2484.3 2104.2 2486.8 2084.4 2488.2C2064.5 2489.6 2051.3 2491.4 2012.9 2492C1974.5 2492.6 1892.5 2492.6 1854.1 2492C1815.7 2491.4 1802.5 2489.6 1782.6 2488.2C1762.8 2486.8 1742.9 2484.3 1735 2483.5Z"/>
<path d="M1360.7 2319.8C1364.9 2319.3 1375.4 2317.8 1385.9 2316.9C1396.5 2316.1 1403.5 2315 1423.8 2314.6C1444.1 2314.2 1487.6 2314.2 1507.9 2314.6C1528.2 2315 1535.2 2316.1 1545.8 2316.9C1556.3 2317.8 1566.8 2319.3 1571 2319.8L1571 2319.8C1566.8 2320.3 1556.3 2321.8 1545.8 2322.7C1535.2 2323.5 1528.2 2324.6 1507.9 2325C1487.6 2325.4 1444.1 2325.4 1423.8 2325C1403.5 2324.6 1396.5 2323.5 1385.9 2322.7C1375.4 2321.8 1364.9 2320.3 1360.7 2319.8Z"/>
</g>
<path d="M970 2126L1150 2128L1343 2138L1478 2146L1600 2151" fill="none" stroke="#9cc4e6" stroke-width="1.5"/>
<path d="M975 2138C992.5 2139 1050.8 2141.9 1080 2144C1109.2 2146.1 1120.8 2148.8 1150 2150.6C1179.2 2152.4 1225.7 2152.9 1255 2154.8C1284.3 2156.7 1302.1 2159 1325.6 2161.8C1349.1 2164.6 1370.3 2168.5 1395.8 2171.7C1421.2 2174.9 1441.1 2175.6 1478.3 2181C1515.5 2186.4 1581.8 2197.8 1618.7 2204C1655.7 2210.2 1671.1 2213.8 1700 2218.5C1728.9 2223.2 1756.9 2226.9 1792 2232.5C1827.1 2238.1 1869 2246.8 1910.7 2251.8C1952.4 2256.8 2007.2 2256 2042.3 2262.4C2077.4 2268.8 2097.7 2282.2 2121.3 2290.4C2144.9 2298.6 2162.4 2304.5 2183.8 2311.5C2205.2 2318.5 2238.6 2329.1 2249.5 2332.6" fill="none" stroke="#3a8ad0" stroke-width="3.8" stroke-dasharray="5.5 5"/>
</g>
<path d="M1197.4 2397C1218.8 2396.1 1278.8 2394.1 1325.6 2391.8C1372.4 2389.5 1441.4 2385.1 1478.3 2383C1515.2 2380.9 1523.4 2379.2 1546.8 2379.5C1570.2 2379.8 1593.2 2382.7 1618.7 2384.8C1644.2 2386.9 1680.6 2389.9 1700 2392C1719.4 2394.1 1719.7 2395.4 1735 2397.5C1750.3 2399.6 1762.7 2403.5 1792 2404.5C1821.3 2405.5 1869 2403.9 1910.7 2403.5C1952.4 2403.1 1996.8 2402.4 2042.3 2402C2087.8 2401.6 2147.5 2401.3 2183.8 2401C2220.1 2400.7 2247.3 2400.2 2260 2400" fill="none" stroke="#111" stroke-width="4.6" stroke-linejoin="round"/>
<path d="M1232.5 2444.5L1360.7 2437.5L1478.3 2435L1501 2435.7L1536 2441L1539.7 2463.8L1571 2472.6L1599.4 2499L1615 2527L1660 2529L1700 2539.7L1745.6 2564.3L1786 2591.7L1875.6 2583.6L1981 2577.7L2033.6 2579L2121.3 2589L2177.5 2595L2246 2601" fill="none" stroke="#111" stroke-width="4.6" stroke-linejoin="round"/>
<g fill="none" stroke="#8d8d92" stroke-width="1.8">
<ellipse cx="510" cy="1845" rx="5" ry="12"/>
<ellipse cx="587.5" cy="1845" rx="6" ry="5"/>
<ellipse cx="632.5" cy="1867.5" rx="6" ry="5"/>
<ellipse cx="457.5" cy="1887.5" rx="9" ry="5"/>
<ellipse cx="567.5" cy="1885" rx="6" ry="5"/>
<ellipse cx="495" cy="1912.5" rx="5" ry="12"/>
<ellipse cx="572.5" cy="1921" rx="9" ry="5"/>
<ellipse cx="637.5" cy="1939" rx="6" ry="6"/>
<ellipse cx="772.5" cy="1945" rx="6" ry="5"/>
<ellipse cx="570" cy="1965" rx="5" ry="13"/>
<ellipse cx="485" cy="1979" rx="7" ry="5"/>
<ellipse cx="735" cy="1967.5" rx="6" ry="5"/>
<ellipse cx="810" cy="1966" rx="6" ry="5"/>
<ellipse cx="760" cy="1984" rx="6" ry="5"/>
<ellipse cx="832.5" cy="1982.5" rx="6" ry="5"/>
<ellipse cx="615" cy="2002.5" rx="9" ry="5"/>
<ellipse cx="795" cy="2009" rx="6" ry="5"/>
<ellipse cx="575" cy="2020" rx="5" ry="12"/>
<ellipse cx="760" cy="2022.5" rx="9" ry="5"/>
<ellipse cx="817.5" cy="2026" rx="6" ry="6"/>
<ellipse cx="675" cy="2051" rx="8" ry="5"/>
<ellipse cx="737.5" cy="2060" rx="9" ry="5"/>
<ellipse cx="810" cy="1967" rx="6" ry="5"/>
<ellipse cx="835" cy="1982" rx="6" ry="5"/>
<ellipse cx="868" cy="1982" rx="6" ry="5"/>
<ellipse cx="795" cy="2010" rx="6" ry="5"/>
<ellipse cx="818" cy="2024" rx="6" ry="5"/>
<ellipse cx="893" cy="2023" rx="6" ry="5"/>
<ellipse cx="935" cy="2010" rx="6" ry="5"/>
<ellipse cx="960" cy="2060" rx="6" ry="5"/>
<ellipse cx="1018" cy="2050" rx="6" ry="5"/>
<ellipse cx="1020" cy="2092" rx="6" ry="5"/>
</g>
<g fill="none" stroke="#6f9fb8" stroke-width="1.8">
<circle cx="1199" cy="2141.5" r="5"/>
<circle cx="1187" cy="2191.7" r="5"/>
<circle cx="1260.6" cy="2191.7" r="5"/>
<circle cx="1306.2" cy="2174" r="5"/>
<circle cx="1353.7" cy="2197" r="5"/>
<circle cx="1188" cy="2235.6" r="5"/>
<circle cx="1245.5" cy="2232" r="5"/>
<circle cx="1318.5" cy="2232" r="5"/>
<circle cx="1292.2" cy="2257.3" r="5"/>
<circle cx="1367" cy="2257.3" r="5"/>
<circle cx="1237.8" cy="2289" r="5"/>
<circle cx="1320.3" cy="2307.5" r="5"/>
<circle cx="1273" cy="2332" r="5"/>
<circle cx="1367" cy="2333" r="5"/>
<circle cx="1319.2" cy="2358.5" r="5"/>
<circle cx="1387" cy="2120.4" r="5"/>
<circle cx="1471.3" cy="2122.5" r="5"/>
<circle cx="1545" cy="2133.7" r="5"/>
<circle cx="1469.5" cy="2245.4" r="5"/>
<circle cx="1639.8" cy="2310" r="5"/>
<circle cx="1678.4" cy="2342.7" r="5"/>
<circle cx="1636.3" cy="2465.5" r="5"/>
<circle cx="1701.3" cy="2448" r="5"/>
<circle cx="1885" cy="2555" r="5"/>
</g>
<g stroke="#bb2a22" stroke-width="4.2" stroke-opacity="0.92">
<line x1="377.5" y1="1742" x2="377.5" y2="1845"/>
<line x1="500" y1="1775" x2="490" y2="2616"/>
<line x1="645" y1="1880" x2="641" y2="2168"/>
<line x1="848.5" y1="1962.5" x2="848.5" y2="2107.5"/>
<line x1="1170" y1="2049" x2="1168" y2="2380"/>
<line x1="1480" y1="2100" x2="1473.8" y2="2658"/>
<line x1="1618.7" y1="2152" x2="1614" y2="2903"/>
<line x1="1792" y1="2171" x2="1784.5" y2="2752"/>
<line x1="2042.3" y1="2196" x2="2031" y2="2717"/>
<line x1="2183.8" y1="2225.5" x2="2176.5" y2="2642"/>
</g>
<rect x="266" y="1682.5" width="35" height="1051" fill="#fff" stroke="#cfcfcf" stroke-width="2"/>
<rect x="266" y="1722.5" width="35" height="56" fill="#000"/>
<rect x="266" y="1837.5" width="35" height="56" fill="#000"/>
<rect x="266" y="1946" width="35" height="56" fill="#000"/>
<rect x="266" y="2059" width="35" height="56" fill="#000"/>
<rect x="266" y="2171" width="35" height="56" fill="#000"/>
<rect x="266" y="2282.5" width="35" height="56" fill="#000"/>
<rect x="266" y="2395" width="35" height="56" fill="#000"/>
<rect x="266" y="2507.5" width="35" height="56" fill="#000"/>
<rect x="266" y="2617.5" width="35" height="56" fill="#000"/>
<text x="158.7" y="1723.5" textLength="93.2" lengthAdjust="spacingAndGlyphs" font-size="49" fill="#151515" font-weight="bold">100</text>
<text x="161.3" y="1783.5" textLength="60.6" lengthAdjust="spacingAndGlyphs" font-size="49" fill="#151515" font-weight="bold">90</text>
<text x="161.3" y="1828.5" textLength="60.6" lengthAdjust="spacingAndGlyphs" font-size="49" fill="#151515" font-weight="bold">80</text>
<text x="160" y="1891" textLength="61.9" lengthAdjust="spacingAndGlyphs" font-size="49" fill="#151515" font-weight="bold">70</text>
<text x="161.3" y="1943.5" textLength="60.6" lengthAdjust="spacingAndGlyphs" font-size="49" fill="#151515" font-weight="bold">60</text>
<text x="161.3" y="1992" textLength="60.6" lengthAdjust="spacingAndGlyphs" font-size="49" fill="#151515" font-weight="bold">50</text>
<text x="162.5" y="2048.5" textLength="59.3" lengthAdjust="spacingAndGlyphs" font-size="49" fill="#151515" font-weight="bold">40</text>
<text x="161.3" y="2103.5" textLength="60.6" lengthAdjust="spacingAndGlyphs" font-size="49" fill="#151515" font-weight="bold">30</text>
<text x="160" y="2158.5" textLength="61.9" lengthAdjust="spacingAndGlyphs" font-size="49" fill="#151515" font-weight="bold">20</text>
<text x="158.6" y="2213.5" textLength="63.3" lengthAdjust="spacingAndGlyphs" font-size="49" fill="#151515" font-weight="bold">10</text>
<text x="161.2" y="2277" textLength="30.6" lengthAdjust="spacingAndGlyphs" font-size="49" fill="#151515" font-weight="bold">0</text>
<text x="161.3" y="2336" textLength="79.5" lengthAdjust="spacingAndGlyphs" font-size="49" fill="#151515" font-weight="bold">-10</text>
<text x="161.3" y="2388.5" textLength="80.6" lengthAdjust="spacingAndGlyphs" font-size="49" fill="#151515" font-weight="bold">-20</text>
<text x="161.3" y="2444.5" textLength="80.6" lengthAdjust="spacingAndGlyphs" font-size="49" fill="#151515" font-weight="bold">-30</text>
<text x="161.3" y="2495" textLength="80.6" lengthAdjust="spacingAndGlyphs" font-size="49" fill="#151515" font-weight="bold">-40</text>
<text x="161.3" y="2559.5" textLength="80.6" lengthAdjust="spacingAndGlyphs" font-size="49" fill="#151515" font-weight="bold">-50</text>
<text x="161.3" y="2613.5" textLength="80.6" lengthAdjust="spacingAndGlyphs" font-size="49" fill="#151515" font-weight="bold">-60</text>
<text x="161.3" y="2675" textLength="80.6" lengthAdjust="spacingAndGlyphs" font-size="49" fill="#151515" font-weight="bold">-70</text>
<text x="41" y="1624.5" textLength="259" lengthAdjust="spacingAndGlyphs" font-size="45" fill="#151515" font-weight="bold">Elevation</text>
<text x="84.6" y="1691" textLength="91.7" lengthAdjust="spacingAndGlyphs" font-size="45" fill="#151515" font-weight="bold">(m)</text>
<text x="267.5" y="2809" textLength="46.2" lengthAdjust="spacingAndGlyphs" font-size="57" fill="#a01218" font-weight="bold">B</text>
<text x="2230" y="2804" textLength="63.5" lengthAdjust="spacingAndGlyphs" font-size="57" fill="#a01218" font-weight="bold">B'</text>
<text x="2127.9" y="1707" textLength="120.7" lengthAdjust="spacingAndGlyphs" font-size="64" fill="#151515" font-weight="bold">SW</text>
<path d="M2056.7 1763.3H2291.3L2245.6 1729.2" fill="none" stroke="#111" stroke-width="5.2" stroke-linejoin="miter"/>
<text x="362.5" y="1681.5" textLength="170.6" lengthAdjust="spacingAndGlyphs" font-size="49" fill="#151515" font-weight="bold">453-21</text>
<line x1="365" y1="1697.5" x2="517.5" y2="1697.5" stroke="#2a2a2a" stroke-width="4.2"/>
<text x="365" y="1738.5" textLength="136.8" lengthAdjust="spacingAndGlyphs" font-size="49" fill="#151515" font-weight="bold">26.08</text>
<text x="522.5" y="1727.5" textLength="173.1" lengthAdjust="spacingAndGlyphs" font-size="49" fill="#151515" font-weight="bold">442-14</text>
<line x1="532.5" y1="1742.5" x2="685" y2="1742.5" stroke="#2a2a2a" stroke-width="4.2"/>
<text x="538.9" y="1780" textLength="131.7" lengthAdjust="spacingAndGlyphs" font-size="49" fill="#151515" font-weight="bold">150.7</text>
<text x="687.5" y="1836.5" textLength="139.3" lengthAdjust="spacingAndGlyphs" font-size="49" fill="#151515" font-weight="bold">413-5</text>
<line x1="680" y1="1850" x2="832.5" y2="1850" stroke="#2a2a2a" stroke-width="4.2"/>
<text x="688.8" y="1900" textLength="134.3" lengthAdjust="spacingAndGlyphs" font-size="49" fill="#151515" font-weight="bold">100.4</text>
<text x="892.5" y="1899" textLength="134.4" lengthAdjust="spacingAndGlyphs" font-size="49" fill="#151515" font-weight="bold">ft008</text>
<line x1="877.5" y1="1909" x2="1027.5" y2="1909" stroke="#8c8c8c" stroke-width="3.4"/>
<text x="877.5" y="1960" textLength="134.3" lengthAdjust="spacingAndGlyphs" font-size="49" fill="#151515" font-weight="bold">45.43</text>
<text x="1171.2" y="1970" textLength="156.9" lengthAdjust="spacingAndGlyphs" font-size="49" fill="#151515" font-weight="bold">dx064</text>
<line x1="1170" y1="1987.5" x2="1320" y2="1987.5" stroke="#2a2a2a" stroke-width="4.2"/>
<text x="1171.2" y="2040" textLength="138.1" lengthAdjust="spacingAndGlyphs" font-size="49" fill="#151515" font-weight="bold">182.9</text>
<text x="1438.7" y="2010" textLength="128.2" lengthAdjust="spacingAndGlyphs" font-size="49" fill="#151515" font-weight="bold">dx12</text>
<line x1="1430" y1="2026" x2="1582.5" y2="2026" stroke="#2a2a2a" stroke-width="4.2"/>
<text x="1425" y="2072.5" textLength="166.8" lengthAdjust="spacingAndGlyphs" font-size="49" fill="#151515" font-weight="bold">208.18</text>
<text x="1621.2" y="2065" textLength="130.7" lengthAdjust="spacingAndGlyphs" font-size="49" fill="#151515" font-weight="bold">dx30</text>
<line x1="1610" y1="2077.5" x2="1762.5" y2="2077.5" stroke="#2a2a2a" stroke-width="4.2"/>
<text x="1611.3" y="2130" textLength="166.8" lengthAdjust="spacingAndGlyphs" font-size="49" fill="#151515" font-weight="bold">155.54</text>
<text x="1802.5" y="2110" textLength="174.4" lengthAdjust="spacingAndGlyphs" font-size="49" fill="#151515" font-weight="bold">245-10</text>
<line x1="1802.5" y1="2119" x2="1952.5" y2="2119" stroke="#2a2a2a" stroke-width="4.2"/>
<text x="1811.2" y="2172.5" textLength="135.7" lengthAdjust="spacingAndGlyphs" font-size="49" fill="#151515" font-weight="bold">110.0</text>
<text x="2046.3" y="2125" textLength="154.3" lengthAdjust="spacingAndGlyphs" font-size="49" fill="#151515" font-weight="bold">dx034</text>
<line x1="2047" y1="2131" x2="2200" y2="2131" stroke="#8c8c8c" stroke-width="3.4"/>
<text x="2051.3" y="2183.5" textLength="135.5" lengthAdjust="spacingAndGlyphs" font-size="49" fill="#151515" font-weight="bold">100.8</text>
<text x="2240" y="2140" textLength="141.8" lengthAdjust="spacingAndGlyphs" font-size="49" fill="#151515" font-weight="bold">278-2</text>
<line x1="2230" y1="2156" x2="2380" y2="2156" stroke="#2a2a2a" stroke-width="4.2"/>
<text x="2243.7" y="2210" textLength="108.2" lengthAdjust="spacingAndGlyphs" font-size="49" fill="#151515" font-weight="bold">81.0</text>
<text x="2194.3" y="2455.5" textLength="22.1" lengthAdjust="spacingAndGlyphs" font-size="40" fill="#223" font-weight="bold">II</text>
<text x="1927.2" y="2562.6" textLength="24.2" lengthAdjust="spacingAndGlyphs" font-size="40" fill="#223" font-weight="bold">II</text>
<text x="1976.5" y="2624" textLength="43.6" lengthAdjust="spacingAndGlyphs" font-size="40" fill="#223" font-weight="bold">III</text>
<rect x="433" y="2693" width="106" height="39" fill="#8ccbf1"/>
<text x="553.6" y="2738" textLength="217.8" lengthAdjust="spacingAndGlyphs" font-size="49" fill="#151515" font-weight="bold">Aquifer</text>
<rect x="905" y="2702.5" width="279" height="13" fill="#fff" stroke="#111" stroke-width="2.4"/>
<rect x="904.7" y="2701.4" width="143" height="15" fill="#000"/>
<text x="1192.7" y="2729.5" textLength="88.4" lengthAdjust="spacingAndGlyphs" font-size="49" fill="#151515" font-weight="bold">km</text>
<text x="905.7" y="2780" textLength="31.2" lengthAdjust="spacingAndGlyphs" font-size="49" fill="#151515" font-weight="bold">0</text>
<text x="1047.8" y="2780" textLength="30.4" lengthAdjust="spacingAndGlyphs" font-size="49" fill="#151515" font-weight="bold">4</text>
<text x="1182.4" y="2780" textLength="33.2" lengthAdjust="spacingAndGlyphs" font-size="49" fill="#151515" font-weight="bold">8</text>
<rect x="422" y="2802" width="107" height="44" fill="url(#hatchB)"/>
<text x="544.8" y="2848" textLength="292.2" lengthAdjust="spacingAndGlyphs" font-size="49" fill="#151515" font-weight="bold">Aquiclude</text>
<rect x="909" y="2813" width="107" height="44" fill="#db9c50" stroke="#b58a55" stroke-width="1"/>
<text x="1056.5" y="2850.6" textLength="367.5" lengthAdjust="spacingAndGlyphs" font-size="49" fill="#151515" font-weight="bold">Pedestal rock</text>
<rect x="422" y="2899" width="98" height="42" fill="url(#aerB)" stroke="#ddd" stroke-width="1"/>
<text x="547.5" y="2934" textLength="388.9" lengthAdjust="spacingAndGlyphs" font-size="49" fill="#151515" font-weight="bold">Aeration zone</text>
<line x1="1018.8" y1="2925" x2="1124" y2="2925" stroke="#9cc4e6" stroke-width="2"/>
<path d="M1030 2914l3 5 3-5M1052 2914l3 5 3-5M1074 2914l3 5 3-5M1096 2914l3 5 3-5" stroke="#9cc4e6" stroke-width="1.5" fill="none"/>
<text x="1133" y="2947" textLength="760" lengthAdjust="spacingAndGlyphs" font-size="49" fill="#151515" font-weight="bold">Boundary of phreatic water</text>
<line x1="422" y1="3015.7" x2="525.5" y2="3015.7" stroke="#3d8fd6" stroke-width="3.4" stroke-dasharray="6 5"/>
<text x="566.8" y="3019" textLength="799.7" lengthAdjust="spacingAndGlyphs" font-size="49" fill="#151515" font-weight="bold">Boundary of Confined water</text>
<line x1="422" y1="3072.7" x2="527" y2="3072.7" stroke="#111" stroke-width="3"/>
<text x="569.4" y="3096.4" textLength="1198.4" lengthAdjust="spacingAndGlyphs" font-size="49" fill="#151515" font-weight="bold">Boundary of water-bearing  rock formation</text>
</g>
</g>
</svg></body></html>
